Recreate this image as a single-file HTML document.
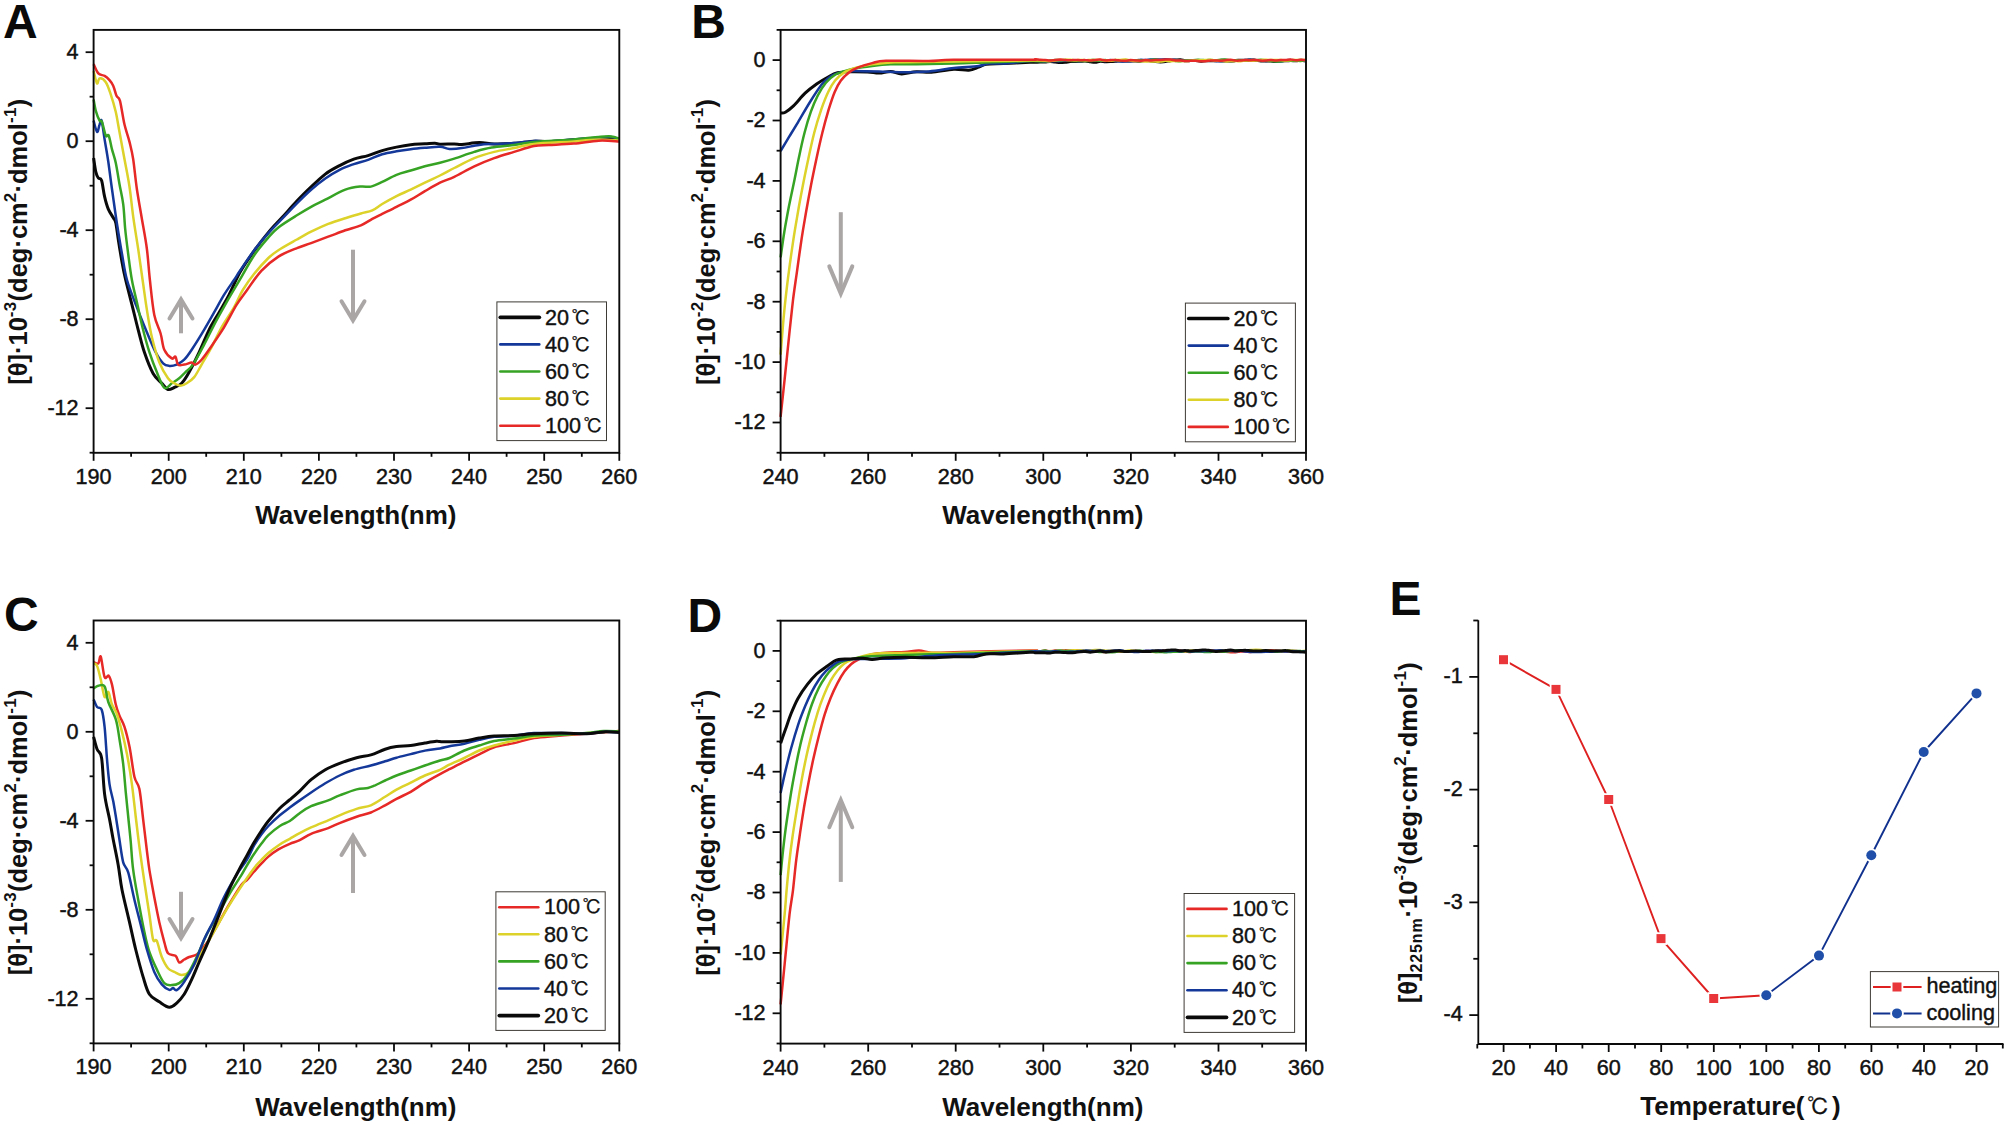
<!DOCTYPE html>
<html lang="en"><head><meta charset="utf-8"><title>CD spectra</title>
<style>html,body{margin:0;padding:0;background:#fff}body{width:2007px;height:1125px;overflow:hidden}svg{display:block}
text{font-family:"Liberation Sans", "Noto Sans CJK SC", sans-serif;fill:#111}
.pl{font-size:48px;font-weight:bold;fill:#0a0a0a}
.tk text{font-size:21.6px;stroke:#111;stroke-width:0.45px}
.lg{font-size:21.6px;stroke:#111;stroke-width:0.4px}
.tt{font-size:26px;font-weight:bold}
.tt.yt{font-size:25.5px}
.sp{font-size:17px;letter-spacing:0.3px}.sb{font-size:16px;letter-spacing:0.9px}
.cj{font-family:"IPAGothic","Noto Sans CJK JP","Liberation Sans",sans-serif;font-size:19.5px;stroke-width:0.25px}
.tt .cj{font-weight:normal;font-size:22.5px;stroke:#111;stroke-width:0.2px}
</style></head><body>
<svg width="2007" height="1125" viewBox="0 0 2007 1125">
<rect width="2007" height="1125" fill="#fff"/>
<text x="3" y="38.1" class="pl">A</text>
<path d="M93.6 158C94 160.3 95 168.5 95.8 171.8C96.6 175.1 97.3 176.6 98.3 178C99.3 179.4 100.5 177.4 101.6 180.5C102.6 183.6 103.5 191.9 104.6 196.7C105.7 201.5 106.8 205.6 108.3 209.1C109.8 212.6 112 215.5 113.3 217.8C114.5 220.1 115 219.3 115.8 222.8C116.6 226.3 117.2 232.5 118.2 239C119.2 245.5 120.8 255.2 122 262C123.2 268.8 124 272.9 125.7 280C127.4 287.1 129.9 296.6 132 304.9C134.1 313.2 136.1 321.9 138.2 329.8C140.3 337.7 141.9 344.9 144.4 352.2C146.9 359.5 150.2 368.2 153.1 373.4C156 378.6 159.3 380.6 161.8 383.3C164.3 386 165.9 388.8 168 389.5C170.1 390.2 172 388.5 174.3 387.5C176.6 386.5 179.2 385.9 181.7 383.3C184.2 380.7 186.3 377.3 189.2 372.1C192.1 366.9 195.9 359.2 199.2 352.2C202.5 345.1 205.8 336.4 209.1 329.8C212.4 323.2 215.8 318.2 219.1 312.4C222.4 306.6 225.5 301.6 229 294.9C232.5 288.2 235.8 279.5 240 272.2C244.2 264.9 249.5 257.5 254.2 250.9C258.9 244.3 263.6 238.1 268.4 232.4C273.1 226.7 277.9 222 282.7 216.8C287.4 211.6 292.2 206.1 296.9 201.1C301.6 196.1 306.4 191.4 311.1 186.9C315.8 182.4 320.6 177.7 325.3 174.1C330.1 170.5 334.9 168.1 339.6 165.6C344.4 163.1 349.1 160.9 353.8 159.2C358.5 157.5 363.3 157 368 155.6C372.7 154.2 377.4 152 382.2 150.6C386.9 149.2 391.8 148.1 396.5 147.1C401.2 146.1 406 145.2 410.7 144.7C415.4 144.1 420.9 144.1 424.9 143.8C428.9 143.6 432.4 143.1 434.9 143.2C437.4 143.3 436.8 144.1 440 144.2C443.2 144.3 450.7 143.9 454.3 143.9C457.9 143.9 457.7 144.6 461.8 144.4C465.9 144.2 473.8 142.7 479.2 142.6C484.6 142.5 488.4 143.8 494.2 143.9C500 144 507.5 143.8 514.1 143.3C520.7 142.9 528.2 141.5 534 141.2C539.8 140.9 542.3 141.8 548.9 141.6C555.5 141.4 565.5 140.4 573.8 139.8C582.1 139.2 592.5 138.4 598.7 138.2C604.9 138 607.8 138.2 611.2 138.5C614.6 138.8 617.9 139.8 619.3 140" fill="none" stroke="#0a0a0a" stroke-width="3.0" stroke-linejoin="round" stroke-linecap="butt"/>
<path d="M93.6 120.7C94.2 122.6 96.1 131.3 97.1 131.9C98.1 132.5 98.8 126.4 99.6 124.5C100.3 122.6 100.8 118.2 101.6 120.7C102.4 123.2 103.5 132.6 104.6 139.4C105.7 146.2 107.1 153.5 108.3 161.8C109.5 170.1 110.5 178.8 112 189.2C113.5 199.6 115.3 213.2 117 224C118.7 234.8 120.3 244.7 122 254C123.7 263.3 124.5 271.1 127 280C129.5 288.9 133.6 298.7 136.9 307.4C140.2 316.1 143.8 324.8 146.9 332.3C150 339.8 152.9 347 155.6 352.2C158.3 357.4 160.8 361.1 163.1 363.4C165.4 365.7 167 365.7 169.3 365.9C171.6 366.1 174.2 365.6 176.7 364.6C179.2 363.6 181.7 362.2 184.2 359.7C186.7 357.2 188.4 354.7 191.7 349.7C195 344.7 200.4 336 204.1 329.8C207.8 323.6 210.8 318.2 214.1 312.4C217.4 306.6 220.7 300.3 224 294.9C227.3 289.5 231.3 284 234 280C236.7 276 236.6 275.8 240 270.8C243.4 265.8 249.5 256.5 254.2 250.2C258.9 243.9 263.6 238.4 268.4 233.1C273.1 227.8 277.9 223.2 282.7 218.2C287.4 213.2 292.2 208.1 296.9 203.3C301.6 198.6 306.4 193.8 311.1 189.7C315.8 185.5 320.6 181.7 325.3 178.4C330.1 175.1 334.9 172.2 339.6 169.8C344.4 167.4 349.1 165.8 353.8 164.1C358.5 162.4 363.3 161.6 368 159.9C372.7 158.2 377.4 155.6 382.2 154.2C386.9 152.8 391.8 152.1 396.5 151.3C401.2 150.5 406 149.8 410.7 149.2C415.4 148.6 420 148.2 424.9 147.8C429.8 147.4 435.9 146.6 440 146.8C444.1 147 445.8 148.7 449.4 148.9C453 149.1 456.8 148.8 461.8 148.1C466.8 147.4 473.8 145.6 479.2 144.9C484.6 144.2 488.4 144.2 494.2 143.9C500 143.6 507.5 143.6 514.1 143.1C520.7 142.6 528.2 141.2 534 140.9C539.8 140.6 542.3 141.7 548.9 141.4C555.5 141.2 565.5 140 573.8 139.4C582.1 138.8 592.5 138.1 598.7 137.7C604.9 137.3 607.8 136.6 611.2 136.9C614.6 137.2 617.9 139 619.3 139.4" fill="none" stroke="#14389a" stroke-width="2.5" stroke-linejoin="round" stroke-linecap="butt"/>
<path d="M93.6 99.6C94 101.5 94.8 107.3 95.8 110.8C96.8 114.3 98.6 118.8 99.6 120.7C100.6 122.6 101 119.5 102 122C103 124.5 104.7 133.4 105.8 135.7C106.9 138 107.8 133.4 108.8 135.7C109.8 138 110.8 144.8 112 149.4C113.2 154 114.5 157.2 115.8 163C117 168.8 118.3 177.3 119.5 184.2C120.7 191 122.2 196.6 123.2 204.1C124.2 211.6 124.4 220.7 125.2 229C126 237.3 127.1 245.5 128.2 254C129.3 262.5 130.4 271.9 131.9 280C133.4 288.1 135 294.1 136.9 302.4C138.8 310.7 141 321.5 143.1 329.8C145.2 338.1 147.1 345.1 149.4 352.2C151.7 359.2 154.3 366.2 156.8 372.1C159.3 378 161.8 385.9 164.3 387.8C166.8 389.7 169.3 384.9 171.8 383.3C174.3 381.7 176.9 380.2 179.2 378.3C181.5 376.4 183.2 374.4 185.5 372.1C187.8 369.8 189.8 369.2 192.9 364.6C196 360 200.6 351.3 204.1 344.7C207.6 338.1 210.4 331.9 214.1 324.8C217.8 317.8 222.2 310 226.5 302.4C230.8 294.8 235.4 287.3 240 279.4C244.6 271.5 249.5 262.2 254.2 255.2C258.9 248.2 264.4 242 268.4 237.4C272.4 232.8 273.6 231.1 278.4 227.4C283.1 223.7 291.4 218.7 296.9 215.3C302.3 211.9 306.4 209.4 311.1 206.8C315.8 204.2 319.6 202.5 325.3 199.7C331 196.8 339.4 191.9 345.3 189.7C351.2 187.5 356.6 187 360.9 186.5C365.2 186 367.3 187.4 370.9 186.6C374.4 185.8 377.9 183.9 382.2 181.9C386.5 179.9 391.8 176.7 396.5 174.8C401.2 172.9 406 171.9 410.7 170.5C415.4 169.1 420 167.6 424.9 166.3C429.8 165 435.1 164 440 162.7C444.9 161.4 448.6 160.4 454.3 158.6C460 156.8 468.1 153.7 474.3 151.9C480.5 150.1 485.1 148.7 491.7 147.6C498.3 146.5 507.1 146 514.1 145.1C521.1 144.2 524 142.8 534 141.9C544 141 563 140.2 573.8 139.4C584.6 138.6 592.5 137.4 598.7 136.9C604.9 136.4 607.8 136.1 611.2 136.4C614.6 136.7 617.9 138.3 619.3 138.7" fill="none" stroke="#37a324" stroke-width="2.5" stroke-linejoin="round" stroke-linecap="butt"/>
<path d="M93.6 71C94.2 73.1 96 82.2 97 83.4C98 84.6 98.1 78.6 99.6 78.4C101.1 78.2 103.9 79.5 105.8 82.2C107.7 84.9 109.1 89.6 110.8 94.6C112.5 99.6 114.3 105.8 115.8 112C117.2 118.2 118 124.1 119.5 132C121 139.9 122.8 150.2 124.5 159.3C126.2 168.4 128.1 177.1 129.5 186.7C130.9 196.2 131.8 206.2 133.2 216.6C134.6 227 136.6 238.4 138.2 249C139.8 259.6 141.1 269.9 142.6 280C144.1 290.1 145.3 300.3 146.9 309.9C148.5 319.4 149.8 328.6 151.9 337.3C154 346 156.6 355.4 159.3 362.2C162 369 165.5 374.8 168 378.3C170.5 381.8 172.2 382.1 174.3 383.3C176.4 384.6 178.4 385.8 180.5 385.8C182.6 385.8 184.4 384.8 186.7 383.3C189 381.9 191.7 380.2 194.2 377.1C196.7 374 198.7 369.6 201.6 364.6C204.5 359.6 208.3 353.4 211.6 347.2C214.9 341 217.9 333.9 221.6 327.3C225.3 320.7 230.5 313.6 234 307.4C237.5 301.2 239.4 295.6 242.8 290C246.2 284.4 249.9 279 254.2 273.7C258.5 268.4 264.4 261.9 268.4 258C272.4 254.1 273.6 253.3 278.4 250.2C283.1 247.1 291.4 242.6 296.9 239.5C302.3 236.4 305.9 234.3 311.1 231.7C316.3 229.1 322.5 226.2 328.2 223.9C333.9 221.7 339.9 219.9 345.3 218.2C350.8 216.5 356.4 214.8 360.9 213.5C365.4 212.2 368.8 212 372.3 210.4C375.9 208.8 378.2 206.4 382.2 204C386.2 201.6 391.8 198.5 396.5 196.1C401.2 193.7 406 191.9 410.7 189.7C415.4 187.4 420 185 424.9 182.6C429.8 180.2 435.1 177.9 440 175.5C444.9 173.1 448.6 170.9 454.3 168C460 165.1 467.7 160.8 474.3 158.1C480.9 155.4 487.6 153.6 494.2 151.9C500.8 150.2 507.5 149.4 514.1 148.1C520.7 146.8 524 145 534 143.9C544 142.8 563 142.2 573.8 141.4C584.6 140.7 591.1 139.5 598.7 139.4C606.3 139.3 615.9 140.5 619.3 140.7" fill="none" stroke="#dcd22a" stroke-width="2.5" stroke-linejoin="round" stroke-linecap="butt"/>
<path d="M93.6 64.2C94.4 65.7 96.5 71.5 98.3 73.4C100.1 75.4 102.7 74.8 104.6 75.9C106.5 77 108 78.5 109.5 80.2C111 81.9 112.1 83.3 113.3 85.9C114.5 88.5 115.4 93.3 116.5 95.8C117.6 98.3 118.7 96 120 100.8C121.3 105.6 122.9 117.7 124.5 124.5C126.1 131.3 128.1 136.1 129.5 141.9C130.9 147.7 132 151.4 133.2 159.3C134.4 167.2 135.4 179.2 136.9 189.2C138.4 199.1 140.2 209 141.9 219C143.6 229 145.6 238.8 146.9 249C148.2 259.2 148.7 269 149.9 280C151.1 291 152.5 306 154.3 314.9C156.1 323.8 158.9 327.7 160.6 333.5C162.3 339.3 162.4 345.6 164.3 349.7C166.2 353.8 169.9 357.2 171.8 358.4C173.7 359.6 174.5 355.7 175.5 356.7C176.5 357.7 176.6 363.3 178 364.6C179.4 365.9 181.9 364.9 184.2 364.6C186.5 364.3 189.8 362.6 191.7 362.6C193.6 362.6 193.8 365.1 195.4 364.6C197.1 364.1 198.9 362.8 201.6 359.7C204.3 356.6 207.9 351.4 211.6 346C215.3 340.6 219.8 334.2 224 327.3C228.2 320.4 232.7 311.1 236.5 304.9C240.3 298.7 243 295.7 247.1 290C251.2 284.3 256.1 276.4 261.3 270.8C266.5 265.2 272.5 260.4 278.4 256.6C284.3 252.8 291.4 250.3 296.9 248.1C302.3 245.8 305.9 245 311.1 243.1C316.3 241.2 322.5 238.8 328.2 236.7C333.9 234.6 339.9 232.2 345.3 230.3C350.8 228.4 356.4 227.2 360.9 225.3C365.4 223.4 368.8 220.8 372.3 218.9C375.9 217 378.2 215.9 382.2 213.9C386.2 211.9 391.8 209.2 396.5 206.8C401.2 204.4 406 202.3 410.7 199.7C415.4 197.1 420 194 424.9 191.2C429.8 188.3 435.1 185 440 182.6C444.9 180.2 448.6 179.5 454.3 176.8C460 174.1 467.7 169.4 474.3 166.3C480.9 163.2 487.6 160.5 494.2 158.1C500.8 155.7 507.5 153.9 514.1 151.9C520.7 149.9 528.2 147.2 534 146.1C539.8 145 542.3 145.5 548.9 145.1C555.5 144.7 565.5 144.3 573.8 143.6C582.1 142.9 591.1 141.1 598.7 140.7C606.3 140.3 615.9 141.3 619.3 141.4" fill="none" stroke="#e62826" stroke-width="2.5" stroke-linejoin="round" stroke-linecap="butt"/>
<rect x="93.6" y="29.9" width="525.6999999999999" height="422.90000000000003" fill="none" stroke="#0a0a0a" stroke-width="1.9"/>
<g stroke="#0a0a0a" stroke-width="1.8">
<line x1="93.6" y1="452.8" x2="93.6" y2="460.8"/>
<line x1="168.7" y1="452.8" x2="168.7" y2="460.8"/>
<line x1="243.8" y1="452.8" x2="243.8" y2="460.8"/>
<line x1="318.9" y1="452.8" x2="318.9" y2="460.8"/>
<line x1="394" y1="452.8" x2="394" y2="460.8"/>
<line x1="469.1" y1="452.8" x2="469.1" y2="460.8"/>
<line x1="544.2" y1="452.8" x2="544.2" y2="460.8"/>
<line x1="619.3" y1="452.8" x2="619.3" y2="460.8"/>
<line x1="131.1" y1="452.8" x2="131.1" y2="456.8"/>
<line x1="206.2" y1="452.8" x2="206.2" y2="456.8"/>
<line x1="281.4" y1="452.8" x2="281.4" y2="456.8"/>
<line x1="356.4" y1="452.8" x2="356.4" y2="456.8"/>
<line x1="431.5" y1="452.8" x2="431.5" y2="456.8"/>
<line x1="506.6" y1="452.8" x2="506.6" y2="456.8"/>
<line x1="581.8" y1="452.8" x2="581.8" y2="456.8"/>
<line x1="85.6" y1="52.2" x2="93.6" y2="52.2"/>
<line x1="85.6" y1="141.2" x2="93.6" y2="141.2"/>
<line x1="85.6" y1="230.2" x2="93.6" y2="230.2"/>
<line x1="85.6" y1="319.2" x2="93.6" y2="319.2"/>
<line x1="85.6" y1="408.2" x2="93.6" y2="408.2"/>
<line x1="89.6" y1="96.7" x2="93.6" y2="96.7"/>
<line x1="89.6" y1="185.7" x2="93.6" y2="185.7"/>
<line x1="89.6" y1="274.7" x2="93.6" y2="274.7"/>
<line x1="89.6" y1="363.7" x2="93.6" y2="363.7"/>
<line x1="89.6" y1="452.7" x2="93.6" y2="452.7"/>
</g>
<g class="tk">
<text x="93.6" y="483.8" text-anchor="middle">190</text>
<text x="168.7" y="483.8" text-anchor="middle">200</text>
<text x="243.8" y="483.8" text-anchor="middle">210</text>
<text x="318.9" y="483.8" text-anchor="middle">220</text>
<text x="394" y="483.8" text-anchor="middle">230</text>
<text x="469.1" y="483.8" text-anchor="middle">240</text>
<text x="544.2" y="483.8" text-anchor="middle">250</text>
<text x="619.3" y="483.8" text-anchor="middle">260</text>
<text x="78.6" y="59.1" text-anchor="end">4</text>
<text x="78.6" y="148.1" text-anchor="end">0</text>
<text x="78.6" y="237.1" text-anchor="end">-4</text>
<text x="78.6" y="326.1" text-anchor="end">-8</text>
<text x="78.6" y="415.1" text-anchor="end">-12</text>
</g>
<text x="355.9" y="524" text-anchor="middle" class="tt">Wavelength(nm)</text>
<text transform="translate(27.4 241.8) rotate(-90)" text-anchor="middle" class="tt yt">[θ]·10<tspan class="sp" dy="-11.5">-3</tspan><tspan dy="11.5">(deg·cm</tspan><tspan class="sp" dy="-11.5">2</tspan><tspan dy="11.5">·dmol</tspan><tspan class="sp" dy="-11.5">-1</tspan><tspan dy="11.5">)</tspan></text>
<rect x="496.9" y="301.9" width="109.6" height="138.7" fill="#fff" stroke="#3e3a35" stroke-width="1"/>
<line x1="500.3" y1="317.3" x2="539.3" y2="317.3" stroke="#0a0a0a" stroke-width="3.7" stroke-linecap="round"/>
<text x="544.9" y="324.5" class="lg">20<tspan class="cj" dx="2.5">℃</tspan></text>
<line x1="500.3" y1="344.4" x2="539.3" y2="344.4" stroke="#14389a" stroke-width="2.6" stroke-linecap="round"/>
<text x="544.9" y="351.6" class="lg">40<tspan class="cj" dx="2.5">℃</tspan></text>
<line x1="500.3" y1="371.5" x2="539.3" y2="371.5" stroke="#37a324" stroke-width="2.6" stroke-linecap="round"/>
<text x="544.9" y="378.7" class="lg">60<tspan class="cj" dx="2.5">℃</tspan></text>
<line x1="500.3" y1="398.6" x2="539.3" y2="398.6" stroke="#dcd22a" stroke-width="2.6" stroke-linecap="round"/>
<text x="544.9" y="405.8" class="lg">80<tspan class="cj" dx="2.5">℃</tspan></text>
<line x1="500.3" y1="425.7" x2="539.3" y2="425.7" stroke="#e62826" stroke-width="2.6" stroke-linecap="round"/>
<text x="544.9" y="432.9" class="lg">100<tspan class="cj" dx="2.5">℃</tspan></text>
<g fill="none" stroke="#aaa6a6" stroke-width="4">
<line x1="181" y1="333.3" x2="181" y2="300.4"/>
<polyline points="169.5,318.5 181,299.4 192.5,318.5" stroke-linejoin="miter" stroke-miterlimit="10" stroke-linecap="round"/>
</g>
<g fill="none" stroke="#aaa6a6" stroke-width="4">
<line x1="353" y1="249.7" x2="353" y2="319.4"/>
<polyline points="341.5,301.3 353,320.4 364.5,301.3" stroke-linejoin="miter" stroke-miterlimit="10" stroke-linecap="round"/>
</g>
<text x="4" y="631.4" class="pl">C</text>
<path d="M93.6 662.2C94.4 662.4 97.1 664.3 98.3 663.4C99.5 662.5 99.8 654.4 100.8 656.7C101.8 659 103.3 673.9 104.6 677.1C105.9 680.3 107.6 674.5 108.8 675.8C110 677 110.8 679.8 112 684.6C113.2 689.4 114.5 699.3 115.8 704.5C117 709.7 118 712 119.5 715.7C121 719.4 122.8 721.7 124.5 726.9C126.2 732.1 127.8 738.5 129.5 746.8C131.2 755.1 132.8 769.7 134.4 776.7C136.1 783.8 138 782.1 139.4 789.1C140.8 796.1 141.9 808.9 143.1 819C144.3 829.1 145.8 841.5 146.8 850C147.9 858.5 148.2 862 149.4 869.9C150.7 877.8 152.7 888.6 154.3 897.3C156 906 157.6 914.7 159.3 922.2C161 929.7 162.9 936.9 164.3 942.1C165.8 947.3 166.1 951 168 953.3C169.9 955.6 173.6 954.3 175.5 955.8C177.4 957.3 177.8 961.9 179.2 962.5C180.6 963.1 182.5 960.4 184.2 959.5C185.9 958.6 187.1 957.8 189.2 957C191.3 956.2 194.6 955.8 196.7 954.5C198.8 953.2 199.5 952 201.6 949.5C203.7 947 206.2 944.1 209.1 939.6C212 935.1 215.8 928 219.1 922.2C222.4 916.4 225.3 910.9 229 904.7C232.7 898.5 238.5 888.9 241.5 884.8C244.5 880.7 245 882.2 247.1 880C249.2 877.8 251.8 874.2 254.2 871.5C256.6 868.8 258.9 866.2 261.3 863.7C263.7 861.2 265.5 859 268.4 856.6C271.2 854.2 274.8 851.5 278.4 849.4C282 847.3 286.2 845.3 289.8 843.8C293.4 842.3 296.1 841.9 299.7 840.2C303.2 838.5 306.4 835.8 311.1 833.8C315.9 831.8 323.4 829.9 328.2 828.1C332.9 826.3 334.9 825 339.6 823.1C344.3 821.2 351.4 818.5 356.6 816.7C361.8 814.9 366.1 814.4 370.9 812.5C375.6 810.6 380.8 807.6 385.1 805.3C389.4 803 392.2 801.1 396.5 798.9C400.8 796.6 406 794.5 410.7 791.8C415.4 789.1 420 785.5 424.9 782.6C429.8 779.7 435.9 776.3 440 774.1C444.1 771.9 445.3 771.3 449.4 769.2C453.4 767.1 459.3 764.2 464.3 761.7C469.3 759.2 474.2 756.7 479.2 754.3C484.2 751.9 488.4 749.2 494.2 747.3C500 745.4 507.5 744.6 514.1 743.1C520.7 741.6 526.1 739.4 534 738.1C541.9 736.9 547.2 736.8 561.4 735.6C575.6 734.4 609.6 731.9 619.3 731.1" fill="none" stroke="#e62826" stroke-width="2.5" stroke-linejoin="round" stroke-linecap="butt"/>
<path d="M93.6 663.4C94.2 663.8 95.9 663.2 97.1 665.9C98.3 668.6 99.5 674.4 100.8 679.6C102 684.8 103.3 694.9 104.6 697C105.8 699.1 107.1 690.8 108.3 692C109.5 693.2 110.5 700.8 112 704.5C113.5 708.2 115.3 709.8 117 714.4C118.7 719 120.3 725.2 122 731.9C123.7 738.5 125.3 745.6 127 754.3C128.7 763 130.5 773.7 131.9 784.1C133.3 794.5 134.6 807 135.7 816.5C136.8 826 137.7 833.3 138.7 841.4C139.7 849.5 140.8 856.8 141.9 864.9C143.1 873 144.3 881.5 145.6 889.8C146.8 898.1 148.2 906.4 149.4 914.7C150.7 923 151.9 935.2 153.1 939.6C154.3 944 155.4 937.9 156.8 940.8C158.2 943.7 159.9 952.4 161.8 957C163.7 961.6 165.9 965.7 168 968.2C170.1 970.7 172 970.8 174.3 971.9C176.6 973 179.2 974.9 181.7 974.9C184.2 974.9 186.7 974.3 189.2 971.9C191.7 969.5 193.8 965.2 196.7 960.7C199.6 956.2 203.3 950.2 206.6 944.6C209.9 939 213.3 932.9 216.6 927.1C219.9 921.3 222.8 915.9 226.5 909.7C230.2 903.5 234.4 896.8 239 889.8C243.6 882.8 250.5 872.8 254.2 867.9C257.9 863 258.9 862.6 261.3 860.1C263.7 857.6 265.3 855.6 268.4 853C271.5 850.4 276.2 846.9 279.8 844.5C283.4 842.1 286.5 840.7 289.8 838.8C293.1 836.9 296.1 835 299.7 833.1C303.2 831.2 306.4 829.5 311.1 827.4C315.9 825.3 323.4 822.3 328.2 820.3C332.9 818.3 334.9 817.2 339.6 815.3C344.3 813.4 351.4 810.6 356.6 808.9C361.8 807.2 366.1 807.3 370.9 805.3C375.6 803.3 380.8 799.4 385.1 796.8C389.4 794.2 392.2 792.1 396.5 789.7C400.8 787.3 406 785 410.7 782.6C415.4 780.2 420 777.6 424.9 775.5C429.8 773.4 435.9 771.6 440 769.8C444.1 768 445.3 766.7 449.4 764.7C453.4 762.7 459.3 760.4 464.3 758C469.3 755.6 474.2 752.6 479.2 750.5C484.2 748.4 488.4 747.1 494.2 745.5C500 743.9 507.5 742.1 514.1 740.6C520.7 739.1 526.1 737.8 534 736.8C541.9 735.8 547.2 735.8 561.4 734.8C575.6 733.8 609.6 731.5 619.3 730.9" fill="none" stroke="#dcd22a" stroke-width="2.5" stroke-linejoin="round" stroke-linecap="butt"/>
<path d="M93.6 688.3C94.4 687.9 96.5 686.1 98.3 685.8C100.1 685.5 102.9 683.6 104.6 686.3C106.3 689 106.4 696.5 108.3 702C110.2 707.5 113.9 713.2 115.8 719.4C117.7 725.6 118.3 731.8 119.5 739.3C120.7 746.8 122.2 755.5 123.2 764.2C124.2 772.9 124.9 782.9 125.7 791.6C126.5 800.3 127.4 808.2 128.2 816.5C129 824.8 129.9 832.5 130.7 841.4C131.5 850.3 131.9 860.2 133.2 869.9C134.4 879.6 136.3 889.3 138.2 899.7C140.1 910.1 142.5 923.4 144.4 932.1C146.3 940.8 147.3 945.8 149.4 952C151.5 958.2 154.3 964.2 156.8 969.4C159.3 974.6 161.8 980.5 164.3 983.1C166.8 985.7 169.3 985.1 171.8 985.1C174.3 985.1 176.7 984.7 179.2 983.1C181.7 981.5 183.8 980.1 186.7 975.7C189.6 971.4 193.4 963.9 196.7 957C200 950.1 203.3 941.2 206.6 934.6C209.9 928 212.9 923.8 216.6 917.2C220.3 910.6 224.8 901.8 229 894.8C233.2 887.8 238.5 879.8 241.5 874.9C244.5 870 245 868.6 247.1 865.1C249.2 861.6 251.8 857.2 254.2 853.7C256.6 850.2 258.9 846.9 261.3 843.8C263.7 840.7 265.3 838.2 268.4 835.2C271.5 832.2 276.2 828.4 279.8 826C283.4 823.6 286.5 823.1 289.8 821C293.1 818.9 296.1 815.7 299.7 813.2C303.2 810.7 306.4 808.2 311.1 806.1C315.9 804 323.4 802.2 328.2 800.4C332.9 798.6 334.9 797.2 339.6 795.4C344.3 793.6 351.9 790.6 356.6 789.4C361.3 788.2 364.9 788.7 368 788C371.1 787.3 372.2 786.6 375.1 785.4C378 784.1 381.5 782.1 385.1 780.5C388.7 778.9 392.2 777.2 396.5 775.5C400.8 773.8 406 772.2 410.7 770.5C415.4 768.8 420 767.2 424.9 765.5C429.8 763.8 435.9 761.8 440 760.5C444.1 759.2 445.3 759.7 449.4 758C453.4 756.3 459.3 752.6 464.3 750.5C469.3 748.4 474.2 747.1 479.2 745.5C484.2 743.9 488.4 742.2 494.2 741.1C500 740 507.5 739.5 514.1 738.6C520.7 737.7 526.1 736.2 534 735.6C541.9 735 552.7 735.2 561.4 734.8C570.1 734.4 579.2 733.7 586.3 733.1C593.3 732.5 598.2 731.4 603.7 731.1C609.2 730.8 616.7 731.4 619.3 731.4" fill="none" stroke="#37a324" stroke-width="2.5" stroke-linejoin="round" stroke-linecap="butt"/>
<path d="M93.6 699.5C94.2 700.8 95.8 705.3 97.1 707C98.4 708.7 100.3 706.2 101.6 709.5C102.8 712.8 103.7 718.6 104.6 726.9C105.5 735.2 106.2 749.7 107 759.2C107.8 768.7 108.5 777 109.5 784.1C110.5 791.2 112 795 113.3 801.6C114.5 808.2 116 817.6 117 824C118 830.4 118.5 833.6 119.5 840C120.5 846.4 121.8 857 123.2 862.4C124.7 867.8 126.3 866.2 128.2 872.4C130.1 878.6 132.3 891 134.4 899.7C136.5 908.4 138.6 916.3 140.7 924.6C142.8 932.9 144.6 941.6 146.9 949.5C149.2 957.4 151.8 966.1 154.3 971.9C156.8 977.7 159.3 981.4 161.8 984.4C164.3 987.4 167.4 989.3 169.3 989.9C171.2 990.5 171.8 988.1 173 988.1C174.2 988.1 174.8 991.1 176.7 990.1C178.6 989.1 181.3 986.2 184.2 981.9C187.1 977.6 190.9 971.5 194.2 964.5C197.5 957.5 200.8 947.1 204.1 939.6C207.4 932.1 210.8 926.8 214.1 919.7C217.4 912.7 220.3 904.8 224 897.3C227.7 889.8 232.7 881.2 236.5 874.9C240.3 868.6 244.2 864.3 247.1 859.4C250 854.5 251.8 849.4 254.2 845.2C256.6 841.1 258.9 837.7 261.3 834.5C263.7 831.3 265.3 829.2 268.4 826C271.5 822.8 276.2 818.4 279.8 815.3C283.4 812.2 286.5 810 289.8 807.5C293.1 805 296.1 802.9 299.7 800.4C303.2 797.9 306.8 795.4 311.1 792.5C315.4 789.6 320.6 786.1 325.3 783.3C330.1 780.5 334.9 777.8 339.6 775.5C344.4 773.2 348.6 771.5 353.8 769.8C359 768.1 365.7 766.9 370.9 765.5C376.1 764.1 380.8 762.6 385.1 761.3C389.4 760 392.2 758.9 396.5 757.7C400.8 756.5 406 755.3 410.7 754.1C415.4 752.9 420 751.6 424.9 750.6C429.8 749.6 435.9 749.1 440 748.4C444.1 747.7 445.3 747.1 449.4 746.3C453.4 745.5 459.3 744.9 464.3 743.8C469.3 742.7 474.2 741 479.2 739.8C484.2 738.6 488.4 737.5 494.2 736.8C500 736.1 507.5 736.2 514.1 735.6C520.7 735 526.1 733.5 534 733.1C541.9 732.7 552.7 733 561.4 733.1C570.1 733.2 579.2 734 586.3 733.8C593.3 733.6 598.2 732.1 603.7 731.9C609.2 731.7 616.7 732.3 619.3 732.4" fill="none" stroke="#14389a" stroke-width="2.5" stroke-linejoin="round" stroke-linecap="butt"/>
<path d="M93.6 736.8C94.2 738.9 95.8 745.8 97.1 749.3C98.4 752.8 100.3 750.5 101.6 758C102.8 765.5 103.3 783.9 104.6 794.1C105.9 804.3 108 811.4 109.5 819C111 826.6 111.8 832.4 113.3 840C114.8 847.6 116.8 856.6 118.2 864.9C119.7 873.2 120.1 880.2 122 889.8C123.9 899.3 127.2 912.2 129.5 922.2C131.8 932.2 133.4 940.4 135.7 949.5C138 958.6 140.8 969.4 143.1 976.9C145.4 984.4 146.7 990.1 149.4 994.3C152.1 998.4 156 999.6 159.3 1001.8C162.6 1004 166.4 1007.1 169.3 1007.3C172.2 1007.5 174.2 1005.3 176.7 1003.1C179.2 1000.9 181.7 998.2 184.2 994.3C186.7 990.3 189.2 984.8 191.7 979.4C194.2 974 196.3 968.6 199.2 962C202.1 955.4 205.8 947.5 209.1 939.6C212.4 931.7 215.8 923 219.1 914.7C222.4 906.4 225.7 897.3 229 889.8C232.3 882.3 236 875.7 239 869.9C242 864.1 244.6 859.7 247.1 855.1C249.6 850.5 251.8 846.3 254.2 842.3C256.6 838.3 258.9 834.5 261.3 831C263.7 827.5 265.3 824.8 268.4 821C271.5 817.2 276.2 811.8 279.8 808.2C283.4 804.7 286.5 802.6 289.8 799.7C293.1 796.9 296.1 794.4 299.7 791.1C303.2 787.8 306.8 783.2 311.1 779.7C315.4 776.2 320.6 772.5 325.3 769.8C330.1 767.1 334.4 765.4 339.6 763.4C344.8 761.4 351.4 759.1 356.6 757.7C361.8 756.3 366.1 756.3 370.9 754.9C375.6 753.5 380.8 750.6 385.1 749.2C389.4 747.8 392.2 747.2 396.5 746.6C400.8 746 406 746.2 410.7 745.6C415.4 745 420.6 743.7 424.9 743C429.2 742.3 433.8 741.5 436.3 741.3C438.8 741.1 437.8 741.5 440 741.6C442.2 741.7 445.3 741.9 449.4 741.8C453.4 741.7 459.3 741.7 464.3 741.1C469.3 740.5 474.2 738.9 479.2 738.1C484.2 737.3 488.4 736.5 494.2 736.1C500 735.7 507.5 736 514.1 735.6C520.7 735.2 526.1 734.2 534 733.8C541.9 733.4 552.7 733.1 561.4 733.1C570.1 733.1 579.2 734 586.3 733.8C593.3 733.6 598.2 732.1 603.7 731.9C609.2 731.7 616.7 732.3 619.3 732.4" fill="none" stroke="#0a0a0a" stroke-width="3.0" stroke-linejoin="round" stroke-linecap="butt"/>
<rect x="93.6" y="620.5" width="525.6999999999999" height="422.9000000000001" fill="none" stroke="#0a0a0a" stroke-width="1.9"/>
<g stroke="#0a0a0a" stroke-width="1.8">
<line x1="93.6" y1="1043.4" x2="93.6" y2="1051.4"/>
<line x1="168.7" y1="1043.4" x2="168.7" y2="1051.4"/>
<line x1="243.8" y1="1043.4" x2="243.8" y2="1051.4"/>
<line x1="318.9" y1="1043.4" x2="318.9" y2="1051.4"/>
<line x1="394" y1="1043.4" x2="394" y2="1051.4"/>
<line x1="469.1" y1="1043.4" x2="469.1" y2="1051.4"/>
<line x1="544.2" y1="1043.4" x2="544.2" y2="1051.4"/>
<line x1="619.3" y1="1043.4" x2="619.3" y2="1051.4"/>
<line x1="131.1" y1="1043.4" x2="131.1" y2="1047.4"/>
<line x1="206.2" y1="1043.4" x2="206.2" y2="1047.4"/>
<line x1="281.4" y1="1043.4" x2="281.4" y2="1047.4"/>
<line x1="356.4" y1="1043.4" x2="356.4" y2="1047.4"/>
<line x1="431.5" y1="1043.4" x2="431.5" y2="1047.4"/>
<line x1="506.6" y1="1043.4" x2="506.6" y2="1047.4"/>
<line x1="581.8" y1="1043.4" x2="581.8" y2="1047.4"/>
<line x1="85.6" y1="642.8" x2="93.6" y2="642.8"/>
<line x1="85.6" y1="731.8" x2="93.6" y2="731.8"/>
<line x1="85.6" y1="820.8" x2="93.6" y2="820.8"/>
<line x1="85.6" y1="909.8" x2="93.6" y2="909.8"/>
<line x1="85.6" y1="998.8" x2="93.6" y2="998.8"/>
<line x1="89.6" y1="687.3" x2="93.6" y2="687.3"/>
<line x1="89.6" y1="776.3" x2="93.6" y2="776.3"/>
<line x1="89.6" y1="865.3" x2="93.6" y2="865.3"/>
<line x1="89.6" y1="954.3" x2="93.6" y2="954.3"/>
<line x1="89.6" y1="1043.3" x2="93.6" y2="1043.3"/>
</g>
<g class="tk">
<text x="93.6" y="1074.4" text-anchor="middle">190</text>
<text x="168.7" y="1074.4" text-anchor="middle">200</text>
<text x="243.8" y="1074.4" text-anchor="middle">210</text>
<text x="318.9" y="1074.4" text-anchor="middle">220</text>
<text x="394" y="1074.4" text-anchor="middle">230</text>
<text x="469.1" y="1074.4" text-anchor="middle">240</text>
<text x="544.2" y="1074.4" text-anchor="middle">250</text>
<text x="619.3" y="1074.4" text-anchor="middle">260</text>
<text x="78.6" y="649.7" text-anchor="end">4</text>
<text x="78.6" y="738.7" text-anchor="end">0</text>
<text x="78.6" y="827.7" text-anchor="end">-4</text>
<text x="78.6" y="916.7" text-anchor="end">-8</text>
<text x="78.6" y="1005.7" text-anchor="end">-12</text>
</g>
<text x="355.9" y="1115.6" text-anchor="middle" class="tt">Wavelength(nm)</text>
<text transform="translate(27.4 832.4000000000001) rotate(-90)" text-anchor="middle" class="tt yt">[θ]·10<tspan class="sp" dy="-11.5">-3</tspan><tspan dy="11.5">(deg·cm</tspan><tspan class="sp" dy="-11.5">2</tspan><tspan dy="11.5">·dmol</tspan><tspan class="sp" dy="-11.5">-1</tspan><tspan dy="11.5">)</tspan></text>
<rect x="495.9" y="891.8" width="109.3" height="138.6" fill="#fff" stroke="#3e3a35" stroke-width="1"/>
<line x1="499.3" y1="907.2" x2="538.3" y2="907.2" stroke="#e62826" stroke-width="2.6" stroke-linecap="round"/>
<text x="543.9" y="914.4" class="lg">100<tspan class="cj" dx="2.5">℃</tspan></text>
<line x1="499.3" y1="934.3" x2="538.3" y2="934.3" stroke="#dcd22a" stroke-width="2.6" stroke-linecap="round"/>
<text x="543.9" y="941.5" class="lg">80<tspan class="cj" dx="2.5">℃</tspan></text>
<line x1="499.3" y1="961.4" x2="538.3" y2="961.4" stroke="#37a324" stroke-width="2.6" stroke-linecap="round"/>
<text x="543.9" y="968.6" class="lg">60<tspan class="cj" dx="2.5">℃</tspan></text>
<line x1="499.3" y1="988.5" x2="538.3" y2="988.5" stroke="#14389a" stroke-width="2.6" stroke-linecap="round"/>
<text x="543.9" y="995.7" class="lg">40<tspan class="cj" dx="2.5">℃</tspan></text>
<line x1="499.3" y1="1015.6" x2="538.3" y2="1015.6" stroke="#0a0a0a" stroke-width="3.7" stroke-linecap="round"/>
<text x="543.9" y="1022.8" class="lg">20<tspan class="cj" dx="2.5">℃</tspan></text>
<g fill="none" stroke="#aaa6a6" stroke-width="4">
<line x1="181" y1="891.8" x2="181" y2="937.1"/>
<polyline points="169.5,919 181,938.1 192.5,919" stroke-linejoin="miter" stroke-miterlimit="10" stroke-linecap="round"/>
</g>
<g fill="none" stroke="#aaa6a6" stroke-width="4">
<line x1="353" y1="893" x2="353" y2="836.9"/>
<polyline points="341.5,855 353,835.9 364.5,855" stroke-linejoin="miter" stroke-miterlimit="10" stroke-linecap="round"/>
</g>
<text x="691.2" y="38.1" class="pl">B</text>
<path d="M780.6 112.9C781.4 112.8 783.2 113.4 785.4 112.2C787.5 111 790.2 109.1 793.5 105.9C796.8 102.7 801.2 96.9 805.1 93.2C809 89.5 812.8 86.7 816.6 84C820.5 81.3 824.7 78.9 828.2 77C831.7 75.1 834 73.7 837.5 72.8C841 71.9 844 71.8 849 71.7C854 71.6 862.5 71.7 867.5 71.9C872.5 72.1 875.2 73.2 879.1 73.1C883 73 887 71.3 890.7 71.4C894.5 71.5 897.3 73.9 901.6 73.9C905.9 74 911.5 72 916.5 71.7C921.5 71.4 925.2 72.6 931.4 72.2C937.6 71.8 947.6 69.5 953.8 69.2C960 68.9 964.6 70.5 968.8 70.2C972.9 69.9 975.8 68.2 978.7 67.2C981.6 66.2 982.1 64.8 986.2 64.2C990.4 63.6 996.3 63.8 1003.6 63.5C1010.9 63.2 1024.8 62.4 1030 62.2C1035.2 62 1033.3 62.3 1035 62.2C1036.7 62.2 1038.4 62.1 1040 62C1041.7 62 1043.4 62.2 1045.1 62.1C1046.7 62 1048.4 61.6 1050.1 61.6C1051.7 61.6 1053.4 62 1055.1 62.1C1056.8 62.2 1058.4 62.4 1060.1 62.4C1061.8 62.4 1063.5 62.5 1065.1 62.3C1066.8 62.2 1068.5 61.7 1070.1 61.6C1071.8 61.4 1073.5 61.6 1075.2 61.6C1076.8 61.5 1078.5 61.4 1080.2 61.3C1081.9 61.2 1083.5 60.9 1085.2 61C1086.9 61.1 1088.5 61.5 1090.2 61.8C1091.9 62 1093.6 62.4 1095.2 62.3C1096.9 62.2 1098.6 61.3 1100.3 61.2C1101.9 61.1 1103.6 61.6 1105.3 61.7C1106.9 61.8 1108.6 61.7 1110.3 61.6C1112 61.5 1113.6 61.3 1115.3 61.2C1117 61.1 1118.7 60.8 1120.3 60.8C1122 60.8 1123.7 61.1 1125.3 61.1C1127 61.1 1128.7 60.9 1130.4 60.9C1132 60.9 1133.7 61.1 1135.4 61.1C1137.1 61.2 1138.7 61.3 1140.4 61.2C1142.1 61.1 1143.7 60.5 1145.4 60.5C1147.1 60.5 1148.8 60.8 1150.4 61C1152.1 61.2 1153.8 61.4 1155.5 61.6C1157.1 61.8 1158.8 61.9 1160.5 61.9C1162.1 61.9 1163.8 61.9 1165.5 61.6C1167.2 61.4 1168.8 60.9 1170.5 60.7C1172.2 60.4 1173.9 60.2 1175.5 60C1177.2 59.9 1178.9 59.7 1180.5 59.8C1182.2 60 1183.9 60.7 1185.6 60.8C1187.2 61 1188.9 60.6 1190.6 60.5C1192.3 60.5 1193.9 60.4 1195.6 60.5C1197.3 60.6 1198.9 61.1 1200.6 61.2C1202.3 61.2 1204 60.8 1205.6 60.8C1207.3 60.7 1209 60.8 1210.7 60.8C1212.3 60.8 1214 60.8 1215.7 60.7C1217.3 60.6 1219 60.2 1220.7 60.2C1222.4 60.1 1224 60.4 1225.7 60.5C1227.4 60.7 1229.1 61.1 1230.7 61.1C1232.4 61.1 1234.1 60.7 1235.7 60.5C1237.4 60.4 1239.1 60.3 1240.8 60.2C1242.4 60.2 1244.1 60.4 1245.8 60.3C1247.5 60.3 1249.1 59.9 1250.8 59.9C1252.5 59.9 1254.1 60.1 1255.8 60.2C1257.5 60.4 1259.2 60.8 1260.8 60.9C1262.5 61.1 1264.2 61.1 1265.9 61.1C1267.5 61.1 1269.2 61 1270.9 61C1272.5 61.1 1274.2 61.5 1275.9 61.4C1277.6 61.4 1279.2 60.8 1280.9 60.7C1282.6 60.6 1284.3 60.8 1285.9 60.8C1287.6 60.8 1289.3 60.6 1290.9 60.6C1292.6 60.6 1294.3 60.9 1296 60.8C1297.6 60.8 1299.3 60.3 1301 60.3C1302.7 60.3 1305.2 60.8 1306 60.9" fill="none" stroke="#0a0a0a" stroke-width="3.0" stroke-linejoin="round" stroke-linecap="butt"/>
<path d="M780.6 151C782 148.7 786 142 788.9 137.2C791.8 132.4 794.6 127.9 798.1 122.1C801.6 116.3 805.8 108.7 809.7 102.5C813.6 96.3 818.2 89.1 821.3 85.1C824.4 81 825.9 80 828.2 78.2C830.5 76.4 832.4 75.3 835.1 74.2C837.8 73.1 841.2 72.2 844.4 71.7C847.6 71.2 848.5 71 854.3 70.9C860.1 70.9 871.7 71.2 879.2 71.4C886.7 71.6 890.8 72.2 899.1 72.2C907.4 72.2 919.8 72.1 928.9 71.4C938 70.7 945.5 68.9 953.8 68C962.1 67.1 972.9 66.8 978.7 66C984.5 65.2 984.6 63.9 988.7 63.5C992.9 63.1 996.7 63.9 1003.6 63.5C1010.5 63.1 1024.8 61.4 1030 61C1035.2 60.6 1033.3 60.9 1035 60.9C1036.7 60.9 1038.4 60.9 1040 61C1041.7 61.1 1043.4 61.5 1045.1 61.6C1046.7 61.6 1048.4 61.3 1050.1 61.2C1051.7 61.2 1053.4 61.1 1055.1 61.1C1056.8 61.1 1058.4 61.2 1060.1 61.1C1061.8 61 1063.5 60.6 1065.1 60.5C1066.8 60.5 1068.5 60.6 1070.1 60.7C1071.8 60.7 1073.5 60.8 1075.2 60.9C1076.8 61 1078.5 61.3 1080.2 61.2C1081.9 61.2 1083.5 60.6 1085.2 60.5C1086.9 60.3 1088.5 60.4 1090.2 60.3C1091.9 60.2 1093.6 59.8 1095.2 59.9C1096.9 59.9 1098.6 60.4 1100.3 60.6C1101.9 60.8 1103.6 61 1105.3 60.9C1106.9 60.8 1108.6 60.1 1110.3 60.1C1112 60.1 1113.6 60.8 1115.3 61C1117 61.2 1118.7 61.4 1120.3 61.5C1122 61.5 1123.7 61.4 1125.3 61.3C1127 61.3 1128.7 61.3 1130.4 61.2C1132 61 1133.7 60.6 1135.4 60.4C1137.1 60.2 1138.7 59.8 1140.4 59.8C1142.1 59.7 1143.7 60.1 1145.4 60.1C1147.1 60.1 1148.8 59.7 1150.4 59.6C1152.1 59.5 1153.8 59.6 1155.5 59.5C1157.1 59.5 1158.8 59.6 1160.5 59.6C1162.1 59.5 1163.8 59.3 1165.5 59.3C1167.2 59.3 1168.8 59.6 1170.5 59.7C1172.2 59.8 1173.9 59.8 1175.5 59.9C1177.2 60.1 1178.9 60.5 1180.5 60.6C1182.2 60.8 1183.9 60.6 1185.6 60.6C1187.2 60.6 1188.9 60.8 1190.6 60.8C1192.3 60.8 1193.9 60.6 1195.6 60.7C1197.3 60.7 1198.9 60.8 1200.6 60.8C1202.3 60.8 1204 60.7 1205.6 60.6C1207.3 60.5 1209 60.2 1210.7 60.3C1212.3 60.3 1214 60.8 1215.7 61.1C1217.3 61.3 1219 61.4 1220.7 61.5C1222.4 61.6 1224 61.6 1225.7 61.6C1227.4 61.6 1229.1 61.6 1230.7 61.4C1232.4 61.3 1234.1 61 1235.7 60.8C1237.4 60.6 1239.1 60.4 1240.8 60.3C1242.4 60.2 1244.1 60.2 1245.8 60.1C1247.5 60 1249.1 59.6 1250.8 59.7C1252.5 59.7 1254.1 60.3 1255.8 60.4C1257.5 60.5 1259.2 60.2 1260.8 60.3C1262.5 60.4 1264.2 60.8 1265.9 60.9C1267.5 60.9 1269.2 60.5 1270.9 60.6C1272.5 60.6 1274.2 61 1275.9 61.2C1277.6 61.3 1279.2 61.5 1280.9 61.4C1282.6 61.3 1284.3 60.6 1285.9 60.3C1287.6 60.1 1289.3 59.9 1290.9 60C1292.6 60.1 1294.3 60.7 1296 60.8C1297.6 60.9 1299.3 60.5 1301 60.6C1302.7 60.7 1305.2 61.1 1306 61.2" fill="none" stroke="#14389a" stroke-width="2.5" stroke-linejoin="round" stroke-linecap="butt"/>
<path d="M780.6 257.4C781.2 253.2 782.9 240.5 784.3 232C785.7 223.5 787.2 215.5 788.9 206.6C790.6 197.7 793 187.3 794.7 178.8C796.4 170.3 797.6 163.4 799.3 155.7C800.9 148 802.7 139.8 804.6 132.5C806.5 125.2 808.7 117.9 810.9 111.7C813.1 105.5 815.3 100.3 817.8 95.5C820.3 90.7 823 86.3 825.9 82.8C828.8 79.3 832 76.6 835.1 74.7C838.2 72.8 840.9 72.3 844.4 71.2C847.9 70.1 851.4 69.1 856 68.2C860.6 67.3 866.4 66.6 872.2 65.9C878 65.2 883.3 64.6 890.7 64.3C898.1 64 906 64.3 916.5 64.2C927 64.1 941.3 63.8 953.8 63.5C966.2 63.2 978.5 62.6 991.2 62.2C1003.9 61.8 1022.7 61.2 1030 61C1037.3 60.8 1033.3 60.9 1035 60.9C1036.7 61 1038.4 61.1 1040 61.2C1041.7 61.2 1043.4 61.4 1045.1 61.3C1046.7 61.2 1048.4 60.8 1050.1 60.6C1051.7 60.4 1053.4 60.1 1055.1 60C1056.8 60 1058.4 60.2 1060.1 60.2C1061.8 60.2 1063.5 60 1065.1 60.1C1066.8 60.2 1068.5 60.7 1070.1 60.8C1071.8 61 1073.5 61 1075.2 61.1C1076.8 61.1 1078.5 61.1 1080.2 61.1C1081.9 61.1 1083.5 61 1085.2 61C1086.9 61 1088.5 61.2 1090.2 61.1C1091.9 61 1093.6 60.5 1095.2 60.4C1096.9 60.3 1098.6 60.5 1100.3 60.4C1101.9 60.4 1103.6 60 1105.3 60C1106.9 60.1 1108.6 60.8 1110.3 60.8C1112 60.8 1113.6 60.1 1115.3 60.1C1117 60.1 1118.7 60.7 1120.3 60.7C1122 60.7 1123.7 60.1 1125.3 60.1C1127 60 1128.7 60.5 1130.4 60.5C1132 60.5 1133.7 60.3 1135.4 60.3C1137.1 60.2 1138.7 60.1 1140.4 60.2C1142.1 60.3 1143.7 60.8 1145.4 60.8C1147.1 60.8 1148.8 60.2 1150.4 60C1152.1 59.8 1153.8 59.5 1155.5 59.6C1157.1 59.7 1158.8 60.4 1160.5 60.5C1162.1 60.7 1163.8 60.6 1165.5 60.5C1167.2 60.4 1168.8 59.9 1170.5 59.9C1172.2 60 1173.9 60.6 1175.5 60.9C1177.2 61.1 1178.9 61.4 1180.5 61.3C1182.2 61.3 1183.9 60.6 1185.6 60.5C1187.2 60.3 1188.9 60.5 1190.6 60.4C1192.3 60.3 1193.9 60 1195.6 59.9C1197.3 59.8 1198.9 59.8 1200.6 59.9C1202.3 59.9 1204 60.3 1205.6 60.3C1207.3 60.3 1209 59.9 1210.7 59.9C1212.3 59.9 1214 60.4 1215.7 60.4C1217.3 60.4 1219 60 1220.7 59.8C1222.4 59.7 1224 59.5 1225.7 59.6C1227.4 59.7 1229.1 60.3 1230.7 60.4C1232.4 60.5 1234.1 60.3 1235.7 60.3C1237.4 60.3 1239.1 60.2 1240.8 60.3C1242.4 60.3 1244.1 60.5 1245.8 60.5C1247.5 60.5 1249.1 60.5 1250.8 60.5C1252.5 60.4 1254.1 60.4 1255.8 60.3C1257.5 60.2 1259.2 59.7 1260.8 59.7C1262.5 59.7 1264.2 60.1 1265.9 60.4C1267.5 60.6 1269.2 60.9 1270.9 61.1C1272.5 61.3 1274.2 61.5 1275.9 61.5C1277.6 61.6 1279.2 61.5 1280.9 61.3C1282.6 61.2 1284.3 60.9 1285.9 60.8C1287.6 60.7 1289.3 60.5 1290.9 60.5C1292.6 60.5 1294.3 60.7 1296 60.8C1297.6 60.8 1299.3 61 1301 60.9C1302.7 60.8 1305.2 60.3 1306 60.2" fill="none" stroke="#37a324" stroke-width="2.5" stroke-linejoin="round" stroke-linecap="butt"/>
<path d="M780.6 354.6C781 349.7 782.2 334.1 783 325C783.8 315.9 784.4 309.1 785.4 300.2C786.4 291.2 787.5 281.5 788.9 271.3C790.2 261.1 792 248.9 793.5 238.9C795 228.9 796.6 220.1 798.1 211.2C799.6 202.3 801.1 194.6 802.8 185.7C804.5 176.8 806.6 166.9 808.5 158C810.4 149.1 812.2 140.6 814.3 132.5C816.4 124.4 819 116.2 821.3 109.4C823.6 102.7 825.9 96.8 828.2 92C830.5 87.2 832.4 83.8 835.1 80.5C837.8 77.2 840.9 74.5 844.4 72.4C847.9 70.3 851.4 69.2 856 67.8C860.6 66.4 866.4 65.2 872.2 64.3C878 63.4 885.4 62.8 890.7 62.4C896 62 893.5 62.4 904 62.2C914.5 62.1 932.8 61.8 953.8 61.5C974.8 61.2 1016.5 60.7 1030 60.5C1043.5 60.3 1033.3 60.2 1035 60.2C1036.7 60.2 1038.4 60.5 1040 60.6C1041.7 60.7 1043.4 60.7 1045.1 60.8C1046.7 60.9 1048.4 61.2 1050.1 61.2C1051.7 61.1 1053.4 60.6 1055.1 60.5C1056.8 60.3 1058.4 60.2 1060.1 60.1C1061.8 60 1063.5 59.8 1065.1 59.8C1066.8 59.7 1068.5 59.6 1070.1 59.7C1071.8 59.8 1073.5 60.3 1075.2 60.3C1076.8 60.4 1078.5 59.9 1080.2 59.9C1081.9 59.9 1083.5 60.2 1085.2 60.2C1086.9 60.2 1088.5 60 1090.2 59.9C1091.9 59.9 1093.6 59.8 1095.2 59.9C1096.9 59.9 1098.6 59.9 1100.3 60C1101.9 60.2 1103.6 60.6 1105.3 60.7C1106.9 60.8 1108.6 60.9 1110.3 60.8C1112 60.6 1113.6 60.1 1115.3 60C1117 59.8 1118.7 59.9 1120.3 59.9C1122 59.8 1123.7 59.5 1125.3 59.6C1127 59.7 1128.7 60.3 1130.4 60.5C1132 60.7 1133.7 60.8 1135.4 60.9C1137.1 61 1138.7 61.1 1140.4 61.2C1142.1 61.3 1143.7 61.3 1145.4 61.4C1147.1 61.4 1148.8 61.3 1150.4 61.4C1152.1 61.4 1153.8 61.6 1155.5 61.6C1157.1 61.7 1158.8 61.7 1160.5 61.6C1162.1 61.5 1163.8 60.9 1165.5 60.8C1167.2 60.7 1168.8 61.2 1170.5 61.2C1172.2 61.2 1173.9 60.9 1175.5 60.9C1177.2 60.9 1178.9 61.1 1180.5 61.1C1182.2 61.1 1183.9 61 1185.6 60.9C1187.2 60.9 1188.9 60.8 1190.6 60.7C1192.3 60.6 1193.9 60.5 1195.6 60.4C1197.3 60.4 1198.9 60.4 1200.6 60.3C1202.3 60.3 1204 60.2 1205.6 60.1C1207.3 60 1209 59.7 1210.7 59.8C1212.3 59.8 1214 60.3 1215.7 60.5C1217.3 60.7 1219 60.8 1220.7 60.9C1222.4 61.1 1224 61.4 1225.7 61.4C1227.4 61.5 1229.1 61.4 1230.7 61.3C1232.4 61.3 1234.1 61.1 1235.7 61.1C1237.4 61 1239.1 61.3 1240.8 61.2C1242.4 61.1 1244.1 60.5 1245.8 60.4C1247.5 60.3 1249.1 60.7 1250.8 60.7C1252.5 60.7 1254.1 60.6 1255.8 60.5C1257.5 60.4 1259.2 60.2 1260.8 60.1C1262.5 59.9 1264.2 59.8 1265.9 59.8C1267.5 59.8 1269.2 60.1 1270.9 60.1C1272.5 60.1 1274.2 59.9 1275.9 59.9C1277.6 59.9 1279.2 60 1280.9 60.1C1282.6 60.2 1284.3 60.4 1285.9 60.4C1287.6 60.4 1289.3 60.4 1290.9 60.3C1292.6 60.2 1294.3 59.9 1296 59.9C1297.6 59.8 1299.3 60.1 1301 60.1C1302.7 60.1 1305.2 59.9 1306 59.9" fill="none" stroke="#dcd22a" stroke-width="2.5" stroke-linejoin="round" stroke-linecap="butt"/>
<path d="M780.6 416.9C781.3 410.7 783.1 393.6 784.6 379.5C786.1 365.4 788.1 345.4 789.5 332.2C790.9 319 791.8 310.3 793 300.2C794.2 290.1 795.6 281.5 797 271.3C798.4 261.1 800.1 248.9 801.6 238.9C803.1 228.9 804.7 220.1 806.2 211.2C807.8 202.3 809.2 194.6 810.9 185.7C812.6 176.8 814.7 166.9 816.6 158C818.5 149.1 820.4 140.6 822.4 132.5C824.4 124.4 826.7 116.2 828.7 109.4C830.8 102.7 832.7 96.8 834.7 92C836.7 87.2 838.5 83.8 840.9 80.5C843.3 77.2 846.1 74.6 849 72.4C851.9 70.2 854.4 68.8 858.3 67.3C862.2 65.8 867.6 64.2 872.2 63.1C876.8 62 876.5 61.1 886 60.8C895.5 60.4 917.6 61.2 928.9 61C940.2 60.8 936.9 59.9 953.8 59.7C970.6 59.5 1016.5 59.8 1030 59.7C1043.5 59.6 1033.3 59.2 1035 59.2C1036.7 59.2 1038.4 59.6 1040 59.7C1041.7 59.9 1043.4 59.9 1045.1 60C1046.7 60.1 1048.4 60.6 1050.1 60.6C1051.7 60.6 1053.4 60.2 1055.1 60C1056.8 59.8 1058.4 59.6 1060.1 59.6C1061.8 59.7 1063.5 60 1065.1 60.1C1066.8 60.2 1068.5 60.3 1070.1 60.3C1071.8 60.3 1073.5 60 1075.2 59.9C1076.8 59.9 1078.5 60.2 1080.2 60.3C1081.9 60.3 1083.5 60 1085.2 60.1C1086.9 60.1 1088.5 60.5 1090.2 60.5C1091.9 60.5 1093.6 60 1095.2 59.9C1096.9 59.7 1098.6 59.5 1100.3 59.6C1101.9 59.7 1103.6 60.4 1105.3 60.5C1106.9 60.6 1108.6 60.3 1110.3 60.2C1112 60.1 1113.6 59.9 1115.3 59.9C1117 60 1118.7 60.4 1120.3 60.6C1122 60.7 1123.7 60.8 1125.3 60.7C1127 60.6 1128.7 60.2 1130.4 60.1C1132 60.1 1133.7 60.3 1135.4 60.4C1137.1 60.4 1138.7 60.7 1140.4 60.7C1142.1 60.6 1143.7 60.2 1145.4 60.1C1147.1 60.1 1148.8 60.5 1150.4 60.5C1152.1 60.5 1153.8 60.1 1155.5 60C1157.1 59.9 1158.8 60 1160.5 60C1162.1 59.9 1163.8 59.7 1165.5 59.6C1167.2 59.5 1168.8 59.4 1170.5 59.5C1172.2 59.7 1173.9 60.4 1175.5 60.6C1177.2 60.7 1178.9 60.3 1180.5 60.4C1182.2 60.5 1183.9 61.1 1185.6 61.1C1187.2 61.2 1188.9 60.8 1190.6 60.8C1192.3 60.7 1193.9 60.8 1195.6 60.8C1197.3 60.9 1198.9 61.2 1200.6 61.2C1202.3 61.3 1204 61.3 1205.6 61.2C1207.3 61.1 1209 60.5 1210.7 60.4C1212.3 60.3 1214 60.5 1215.7 60.5C1217.3 60.6 1219 60.8 1220.7 60.7C1222.4 60.7 1224 60.3 1225.7 60.2C1227.4 60 1229.1 59.7 1230.7 59.7C1232.4 59.8 1234.1 60.4 1235.7 60.6C1237.4 60.7 1239.1 60.6 1240.8 60.6C1242.4 60.5 1244.1 60.2 1245.8 60.1C1247.5 60 1249.1 60.2 1250.8 60.2C1252.5 60.2 1254.1 59.9 1255.8 59.9C1257.5 60 1259.2 60.5 1260.8 60.6C1262.5 60.7 1264.2 60.6 1265.9 60.5C1267.5 60.4 1269.2 60 1270.9 60C1272.5 60 1274.2 60.6 1275.9 60.6C1277.6 60.6 1279.2 60.1 1280.9 60C1282.6 59.9 1284.3 60 1285.9 59.9C1287.6 59.8 1289.3 59.4 1290.9 59.5C1292.6 59.5 1294.3 60.2 1296 60.2C1297.6 60.3 1299.3 59.8 1301 59.8C1302.7 59.8 1305.2 60.1 1306 60.1" fill="none" stroke="#e62826" stroke-width="2.5" stroke-linejoin="round" stroke-linecap="butt"/>
<rect x="780.6" y="29.9" width="525.4" height="422.90000000000003" fill="none" stroke="#0a0a0a" stroke-width="1.9"/>
<g stroke="#0a0a0a" stroke-width="1.8">
<line x1="780.6" y1="452.8" x2="780.6" y2="460.8"/>
<line x1="868.2" y1="452.8" x2="868.2" y2="460.8"/>
<line x1="955.7" y1="452.8" x2="955.7" y2="460.8"/>
<line x1="1043.3" y1="452.8" x2="1043.3" y2="460.8"/>
<line x1="1130.9" y1="452.8" x2="1130.9" y2="460.8"/>
<line x1="1218.5" y1="452.8" x2="1218.5" y2="460.8"/>
<line x1="1306" y1="452.8" x2="1306" y2="460.8"/>
<line x1="824.4" y1="452.8" x2="824.4" y2="456.8"/>
<line x1="912" y1="452.8" x2="912" y2="456.8"/>
<line x1="999.5" y1="452.8" x2="999.5" y2="456.8"/>
<line x1="1087.1" y1="452.8" x2="1087.1" y2="456.8"/>
<line x1="1174.7" y1="452.8" x2="1174.7" y2="456.8"/>
<line x1="1262.2" y1="452.8" x2="1262.2" y2="456.8"/>
<line x1="772.6" y1="60.1" x2="780.6" y2="60.1"/>
<line x1="772.6" y1="120.5" x2="780.6" y2="120.5"/>
<line x1="772.6" y1="180.9" x2="780.6" y2="180.9"/>
<line x1="772.6" y1="241.3" x2="780.6" y2="241.3"/>
<line x1="772.6" y1="301.7" x2="780.6" y2="301.7"/>
<line x1="772.6" y1="362.1" x2="780.6" y2="362.1"/>
<line x1="772.6" y1="422.5" x2="780.6" y2="422.5"/>
<line x1="776.6" y1="29.9" x2="780.6" y2="29.9"/>
<line x1="776.6" y1="90.3" x2="780.6" y2="90.3"/>
<line x1="776.6" y1="150.7" x2="780.6" y2="150.7"/>
<line x1="776.6" y1="211.1" x2="780.6" y2="211.1"/>
<line x1="776.6" y1="271.5" x2="780.6" y2="271.5"/>
<line x1="776.6" y1="331.9" x2="780.6" y2="331.9"/>
<line x1="776.6" y1="392.3" x2="780.6" y2="392.3"/>
<line x1="776.6" y1="452.7" x2="780.6" y2="452.7"/>
</g>
<g class="tk">
<text x="780.6" y="483.8" text-anchor="middle">240</text>
<text x="868.2" y="483.8" text-anchor="middle">260</text>
<text x="955.7" y="483.8" text-anchor="middle">280</text>
<text x="1043.3" y="483.8" text-anchor="middle">300</text>
<text x="1130.9" y="483.8" text-anchor="middle">320</text>
<text x="1218.5" y="483.8" text-anchor="middle">340</text>
<text x="1306" y="483.8" text-anchor="middle">360</text>
<text x="765.6" y="67" text-anchor="end">0</text>
<text x="765.6" y="127.4" text-anchor="end">-2</text>
<text x="765.6" y="187.8" text-anchor="end">-4</text>
<text x="765.6" y="248.2" text-anchor="end">-6</text>
<text x="765.6" y="308.6" text-anchor="end">-8</text>
<text x="765.6" y="369" text-anchor="end">-10</text>
<text x="765.6" y="429.4" text-anchor="end">-12</text>
</g>
<text x="1042.8" y="524" text-anchor="middle" class="tt">Wavelength(nm)</text>
<text transform="translate(714.6 242) rotate(-90)" text-anchor="middle" class="tt yt">[θ]·10<tspan class="sp" dy="-11.5">-2</tspan><tspan dy="11.5">(deg·cm</tspan><tspan class="sp" dy="-11.5">2</tspan><tspan dy="11.5">·dmol</tspan><tspan class="sp" dy="-11.5">-1</tspan><tspan dy="11.5">)</tspan></text>
<rect x="1185.4" y="303.1" width="110" height="138.7" fill="#fff" stroke="#3e3a35" stroke-width="1"/>
<line x1="1188.8" y1="318.5" x2="1227.8" y2="318.5" stroke="#0a0a0a" stroke-width="3.7" stroke-linecap="round"/>
<text x="1233.4" y="325.7" class="lg">20<tspan class="cj" dx="2.5">℃</tspan></text>
<line x1="1188.8" y1="345.6" x2="1227.8" y2="345.6" stroke="#14389a" stroke-width="2.6" stroke-linecap="round"/>
<text x="1233.4" y="352.8" class="lg">40<tspan class="cj" dx="2.5">℃</tspan></text>
<line x1="1188.8" y1="372.7" x2="1227.8" y2="372.7" stroke="#37a324" stroke-width="2.6" stroke-linecap="round"/>
<text x="1233.4" y="379.9" class="lg">60<tspan class="cj" dx="2.5">℃</tspan></text>
<line x1="1188.8" y1="399.8" x2="1227.8" y2="399.8" stroke="#dcd22a" stroke-width="2.6" stroke-linecap="round"/>
<text x="1233.4" y="407" class="lg">80<tspan class="cj" dx="2.5">℃</tspan></text>
<line x1="1188.8" y1="426.9" x2="1227.8" y2="426.9" stroke="#e62826" stroke-width="2.6" stroke-linecap="round"/>
<text x="1233.4" y="434.1" class="lg">100<tspan class="cj" dx="2.5">℃</tspan></text>
<g fill="none" stroke="#aaa6a6" stroke-width="4">
<line x1="840.8" y1="212.2" x2="840.8" y2="292.6"/>
<polyline points="829.3,266.4 840.8,293.6 852.3,266.4" stroke-linejoin="miter" stroke-miterlimit="10" stroke-linecap="round"/>
</g>
<text x="687.6" y="631.5" class="pl">D</text>
<path d="M780.6 1004.3C781.3 997.7 783.1 979.4 784.6 964.5C786.1 949.6 788.1 927.1 789.5 914.7C790.9 902.3 792 898.7 793 890.2C794 881.7 794.8 872.3 795.8 863.6C796.8 854.9 797.9 847.5 799.3 838.2C800.6 829 802.4 817.4 803.9 808.1C805.4 798.9 807 790.8 808.5 782.7C810 774.6 811.5 767.4 813.2 759.5C815 751.6 817.1 742.8 819 735.3C820.9 727.8 822.8 720.6 824.7 714.4C826.6 708.2 828.4 703.4 830.5 698.2C832.6 693 835.2 687.6 837.5 683.2C839.8 678.8 842.1 674.8 844.4 671.6C846.7 668.4 849 666 851.3 664C853.6 662 854.8 661.2 858.3 659.6C861.8 658 867.6 655.4 872.2 654.3C876.8 653.1 880.5 653.1 886 652.7C891.5 652.3 899.5 652.4 905 652C910.5 651.6 914.6 650.4 919 650.5C923.4 650.6 925.6 652.4 931.4 652.7C937.2 653 937.4 652.6 953.8 652.2C970.2 651.8 1016.5 650.7 1030 650.5C1043.5 650.3 1033.3 650.7 1035 650.8C1036.7 650.9 1038.4 651.3 1040 651.2C1041.7 651.2 1043.4 650.5 1045.1 650.5C1046.7 650.5 1048.4 651.3 1050.1 651.3C1051.7 651.3 1053.4 650.7 1055.1 650.6C1056.8 650.5 1058.4 650.9 1060.1 650.9C1061.8 650.8 1063.5 650.3 1065.1 650.3C1066.8 650.2 1068.5 650.8 1070.1 650.8C1071.8 650.8 1073.5 650.3 1075.2 650.3C1076.8 650.3 1078.5 650.7 1080.2 650.8C1081.9 650.9 1083.5 651 1085.2 651.1C1086.9 651.2 1088.5 651.4 1090.2 651.4C1091.9 651.4 1093.6 651.1 1095.2 651.1C1096.9 651.1 1098.6 651.4 1100.3 651.6C1101.9 651.7 1103.6 652.1 1105.3 652C1106.9 651.9 1108.6 651.2 1110.3 651C1112 650.9 1113.6 650.9 1115.3 651.1C1117 651.2 1118.7 651.6 1120.3 651.7C1122 651.8 1123.7 651.8 1125.3 651.8C1127 651.7 1128.7 651.5 1130.4 651.4C1132 651.3 1133.7 651 1135.4 651C1137.1 651.1 1138.7 651.7 1140.4 651.7C1142.1 651.7 1143.7 650.9 1145.4 650.9C1147.1 650.8 1148.8 651.2 1150.4 651.3C1152.1 651.5 1153.8 651.8 1155.5 651.7C1157.1 651.7 1158.8 651.1 1160.5 651C1162.1 650.8 1163.8 650.9 1165.5 650.8C1167.2 650.7 1168.8 650.6 1170.5 650.6C1172.2 650.7 1173.9 650.9 1175.5 650.9C1177.2 650.9 1178.9 650.7 1180.5 650.8C1182.2 650.9 1183.9 651.3 1185.6 651.5C1187.2 651.6 1188.9 651.9 1190.6 651.9C1192.3 651.9 1193.9 651.3 1195.6 651.3C1197.3 651.3 1198.9 651.9 1200.6 651.8C1202.3 651.7 1204 651.1 1205.6 650.9C1207.3 650.7 1209 650.4 1210.7 650.4C1212.3 650.4 1214 650.8 1215.7 650.9C1217.3 651.1 1219 651.3 1220.7 651.4C1222.4 651.5 1224 651.6 1225.7 651.7C1227.4 651.9 1229.1 652.1 1230.7 652.2C1232.4 652.3 1234.1 652.4 1235.7 652.2C1237.4 652.1 1239.1 651.6 1240.8 651.5C1242.4 651.4 1244.1 651.6 1245.8 651.7C1247.5 651.8 1249.1 652.1 1250.8 652C1252.5 651.9 1254.1 651.2 1255.8 651.1C1257.5 650.9 1259.2 651.2 1260.8 651.1C1262.5 651 1264.2 650.7 1265.9 650.6C1267.5 650.5 1269.2 650.3 1270.9 650.3C1272.5 650.3 1274.2 650.5 1275.9 650.6C1277.6 650.7 1279.2 650.8 1280.9 651C1282.6 651.2 1284.3 651.7 1285.9 651.7C1287.6 651.7 1289.3 651.1 1290.9 651C1292.6 650.8 1294.3 650.9 1296 651C1297.6 651.2 1299.3 651.6 1301 651.7C1302.7 651.9 1305.2 651.8 1306 651.9" fill="none" stroke="#e62826" stroke-width="2.5" stroke-linejoin="round" stroke-linecap="butt"/>
<path d="M780.6 954.5C781.3 947.9 783.6 925.4 784.6 914.7C785.6 904 785.9 898.3 786.6 890.2C787.3 882.1 788 874.6 788.9 865.9C789.8 857.2 790.9 847.8 792.3 838.2C793.6 828.6 795.5 817.7 797 808.1C798.5 798.5 800.1 788.9 801.6 780.4C803.1 771.9 804.5 765.1 806.2 757.2C807.9 749.3 810.1 740.4 812 732.9C813.9 725.4 815.9 718.3 817.8 712.1C819.7 705.9 821.5 701.1 823.6 695.9C825.7 690.7 828.2 685.1 830.5 680.9C832.8 676.7 835.2 673.4 837.5 670.5C839.8 667.6 842.1 665.2 844.4 663.5C846.7 661.8 847.4 661.5 851.3 660.1C855.1 658.7 861.7 656.2 867.5 655C873.3 653.8 879.8 653.4 886 653.1C892.2 652.8 897.9 653.2 905 653.1C912.1 653 920.8 652.7 928.9 652.7C937 652.7 936.9 653.2 953.8 652.9C970.6 652.6 1016.5 651.2 1030 651C1043.5 650.8 1033.3 651.4 1035 651.6C1036.7 651.8 1038.4 651.9 1040 652C1041.7 652.1 1043.4 652.3 1045.1 652.2C1046.7 652 1048.4 651.3 1050.1 651.1C1051.7 651 1053.4 651.2 1055.1 651.2C1056.8 651.2 1058.4 651.1 1060.1 651C1061.8 651 1063.5 651.2 1065.1 651.1C1066.8 651 1068.5 650.7 1070.1 650.5C1071.8 650.4 1073.5 650.3 1075.2 650.3C1076.8 650.3 1078.5 650.5 1080.2 650.5C1081.9 650.5 1083.5 650.3 1085.2 650.4C1086.9 650.4 1088.5 650.6 1090.2 650.6C1091.9 650.5 1093.6 650.2 1095.2 650.1C1096.9 650 1098.6 649.8 1100.3 649.9C1101.9 650 1103.6 650.5 1105.3 650.7C1106.9 650.8 1108.6 650.7 1110.3 650.7C1112 650.8 1113.6 650.8 1115.3 650.9C1117 651 1118.7 651.3 1120.3 651.3C1122 651.3 1123.7 651.2 1125.3 651C1127 650.9 1128.7 650.4 1130.4 650.4C1132 650.4 1133.7 651 1135.4 651.1C1137.1 651.2 1138.7 651.2 1140.4 651.2C1142.1 651.3 1143.7 651.4 1145.4 651.4C1147.1 651.4 1148.8 651.4 1150.4 651.4C1152.1 651.5 1153.8 652 1155.5 652C1157.1 652 1158.8 651.5 1160.5 651.4C1162.1 651.4 1163.8 651.7 1165.5 651.7C1167.2 651.6 1168.8 651.3 1170.5 651.3C1172.2 651.2 1173.9 651.3 1175.5 651.3C1177.2 651.3 1178.9 651.5 1180.5 651.4C1182.2 651.4 1183.9 651.2 1185.6 651C1187.2 650.9 1188.9 650.5 1190.6 650.5C1192.3 650.4 1193.9 650.6 1195.6 650.7C1197.3 650.8 1198.9 651.1 1200.6 651.2C1202.3 651.3 1204 651.3 1205.6 651.3C1207.3 651.3 1209 651.1 1210.7 651.1C1212.3 651.1 1214 651.4 1215.7 651.3C1217.3 651.3 1219 650.9 1220.7 650.8C1222.4 650.6 1224 650.5 1225.7 650.5C1227.4 650.4 1229.1 650.4 1230.7 650.5C1232.4 650.6 1234.1 651.1 1235.7 651.2C1237.4 651.2 1239.1 650.9 1240.8 650.7C1242.4 650.6 1244.1 650.4 1245.8 650.3C1247.5 650.2 1249.1 650.2 1250.8 650.1C1252.5 650 1254.1 649.8 1255.8 649.8C1257.5 649.8 1259.2 649.9 1260.8 650C1262.5 650.1 1264.2 650.4 1265.9 650.6C1267.5 650.8 1269.2 651.2 1270.9 651.2C1272.5 651.3 1274.2 651 1275.9 650.9C1277.6 650.9 1279.2 650.9 1280.9 650.8C1282.6 650.8 1284.3 650.7 1285.9 650.6C1287.6 650.6 1289.3 650.5 1290.9 650.5C1292.6 650.6 1294.3 651 1296 651.2C1297.6 651.3 1299.3 651.3 1301 651.2C1302.7 651.1 1305.2 650.9 1306 650.8" fill="none" stroke="#dcd22a" stroke-width="2.5" stroke-linejoin="round" stroke-linecap="butt"/>
<path d="M780.6 875.2C781 871 782.1 858.7 783.1 849.8C784.1 840.9 785.2 831.6 786.6 822C788 812.4 789.7 801.1 791.2 791.9C792.7 782.6 794.3 774.4 795.8 766.5C797.3 758.6 798.7 751.8 800.4 744.5C802.1 737.2 804.3 729.2 806.2 722.5C808.1 715.8 809.9 709.8 812 704C814.1 698.2 816.6 692.4 818.9 687.8C821.2 683.2 823.6 679.6 825.9 676.3C828.2 673 830.3 670.5 832.8 668.2C835.3 665.9 838.2 663.8 840.9 662.4C843.6 661 844.6 660.6 849 659.6C853.4 658.6 858.2 657.4 867.5 656.6C876.8 655.8 894.8 655.4 905 655C915.2 654.6 920.8 654.4 928.9 654.2C937 654 936.9 654.4 953.8 653.9C970.6 653.4 1016.5 651.7 1030 651.4C1043.5 651.1 1033.3 652.1 1035 652C1036.7 652 1038.4 651.5 1040 651.3C1041.7 651 1043.4 650.6 1045.1 650.6C1046.7 650.7 1048.4 651.5 1050.1 651.6C1051.7 651.7 1053.4 651.2 1055.1 651C1056.8 650.9 1058.4 650.6 1060.1 650.6C1061.8 650.6 1063.5 651 1065.1 651.1C1066.8 651.1 1068.5 650.9 1070.1 650.9C1071.8 651 1073.5 651.6 1075.2 651.6C1076.8 651.6 1078.5 651.1 1080.2 651.1C1081.9 651.1 1083.5 651.8 1085.2 651.8C1086.9 651.8 1088.5 651.4 1090.2 651.3C1091.9 651.2 1093.6 651.3 1095.2 651.4C1096.9 651.5 1098.6 651.8 1100.3 651.9C1101.9 652 1103.6 651.8 1105.3 651.9C1106.9 651.9 1108.6 652.2 1110.3 652.2C1112 652.2 1113.6 652.3 1115.3 652.1C1117 651.9 1118.7 651.1 1120.3 651.1C1122 651 1123.7 651.5 1125.3 651.6C1127 651.7 1128.7 651.6 1130.4 651.5C1132 651.5 1133.7 651.2 1135.4 651.1C1137.1 650.9 1138.7 650.6 1140.4 650.7C1142.1 650.7 1143.7 651.2 1145.4 651.3C1147.1 651.4 1148.8 651.3 1150.4 651.3C1152.1 651.4 1153.8 651.8 1155.5 651.9C1157.1 652 1158.8 651.9 1160.5 651.9C1162.1 652 1163.8 652.3 1165.5 652.3C1167.2 652.2 1168.8 652 1170.5 651.9C1172.2 651.8 1173.9 651.9 1175.5 651.8C1177.2 651.8 1178.9 651.8 1180.5 651.7C1182.2 651.6 1183.9 651.1 1185.6 651.1C1187.2 651.1 1188.9 651.7 1190.6 651.8C1192.3 651.8 1193.9 651.3 1195.6 651.2C1197.3 651.2 1198.9 651.4 1200.6 651.6C1202.3 651.7 1204 652 1205.6 652C1207.3 652.1 1209 652 1210.7 651.9C1212.3 651.7 1214 651.1 1215.7 651.1C1217.3 651 1219 651.4 1220.7 651.5C1222.4 651.6 1224 651.7 1225.7 651.6C1227.4 651.5 1229.1 651.2 1230.7 651C1232.4 650.8 1234.1 650.4 1235.7 650.4C1237.4 650.3 1239.1 650.7 1240.8 650.7C1242.4 650.7 1244.1 650.1 1245.8 650.2C1247.5 650.3 1249.1 651 1250.8 651.2C1252.5 651.3 1254.1 651.1 1255.8 651.1C1257.5 651.1 1259.2 651.2 1260.8 651.2C1262.5 651.1 1264.2 651 1265.9 651C1267.5 651 1269.2 651.1 1270.9 651.3C1272.5 651.4 1274.2 651.8 1275.9 651.8C1277.6 651.8 1279.2 651.4 1280.9 651.2C1282.6 651.1 1284.3 651 1285.9 651C1287.6 651 1289.3 651.2 1290.9 651.2C1292.6 651.1 1294.3 650.9 1296 650.9C1297.6 650.8 1299.3 651 1301 651.1C1302.7 651.1 1305.2 651.1 1306 651.2" fill="none" stroke="#37a324" stroke-width="2.5" stroke-linejoin="round" stroke-linecap="butt"/>
<path d="M780.6 793.1C781.4 789.4 783.6 778.6 785.4 771.1C787.2 763.6 789.1 755.7 791.2 748C793.3 740.3 795.8 731.8 798.1 724.8C800.4 717.8 802.8 711.9 805.1 706.3C807.4 700.7 809.7 695.7 812 691.3C814.3 686.9 816.6 683.1 818.9 679.7C821.2 676.4 823.6 673.6 825.9 671.2C828.2 668.8 830.5 666.9 832.8 665.2C835.1 663.5 837.1 662.2 839.8 661.2C842.5 660.2 844.4 659.8 849 659.4C853.6 659 858.2 659.1 867.5 658.9C876.8 658.7 894.8 658.7 905 658.2C915.2 657.7 920.8 656.5 928.9 655.9C937 655.3 945.5 655 953.8 654.7C962.1 654.4 966 654.7 978.7 654.2C991.4 653.7 1020.6 652.2 1030 651.7C1039.4 651.2 1033.3 651.2 1035 651.2C1036.7 651.2 1038.4 651.5 1040 651.6C1041.7 651.7 1043.4 651.8 1045.1 651.8C1046.7 651.8 1048.4 651.8 1050.1 651.7C1051.7 651.6 1053.4 651.2 1055.1 651.2C1056.8 651.2 1058.4 651.6 1060.1 651.7C1061.8 651.9 1063.5 652 1065.1 652.1C1066.8 652.1 1068.5 651.9 1070.1 651.8C1071.8 651.8 1073.5 651.8 1075.2 651.7C1076.8 651.6 1078.5 651.4 1080.2 651.2C1081.9 651 1083.5 650.6 1085.2 650.6C1086.9 650.5 1088.5 650.6 1090.2 650.7C1091.9 650.8 1093.6 651.1 1095.2 651.1C1096.9 651 1098.6 650.5 1100.3 650.5C1101.9 650.6 1103.6 651.2 1105.3 651.2C1106.9 651.3 1108.6 651 1110.3 650.9C1112 650.8 1113.6 650.7 1115.3 650.6C1117 650.5 1118.7 650.1 1120.3 650.2C1122 650.3 1123.7 651 1125.3 651.3C1127 651.5 1128.7 651.4 1130.4 651.5C1132 651.6 1133.7 651.9 1135.4 651.9C1137.1 651.9 1138.7 651.9 1140.4 651.7C1142.1 651.5 1143.7 651 1145.4 650.8C1147.1 650.6 1148.8 650.7 1150.4 650.7C1152.1 650.7 1153.8 650.9 1155.5 650.9C1157.1 650.8 1158.8 650.3 1160.5 650.4C1162.1 650.5 1163.8 651.2 1165.5 651.3C1167.2 651.4 1168.8 651.2 1170.5 651C1172.2 650.9 1173.9 650.6 1175.5 650.6C1177.2 650.6 1178.9 651.2 1180.5 651.2C1182.2 651.2 1183.9 650.6 1185.6 650.7C1187.2 650.7 1188.9 651.3 1190.6 651.4C1192.3 651.5 1193.9 651.3 1195.6 651.2C1197.3 651.2 1198.9 651.3 1200.6 651.3C1202.3 651.2 1204 651 1205.6 651C1207.3 650.9 1209 651.1 1210.7 651C1212.3 650.9 1214 650.7 1215.7 650.6C1217.3 650.5 1219 650.1 1220.7 650.2C1222.4 650.2 1224 651 1225.7 651C1227.4 651.1 1229.1 650.7 1230.7 650.7C1232.4 650.7 1234.1 651.2 1235.7 651.2C1237.4 651.3 1239.1 650.7 1240.8 650.8C1242.4 650.8 1244.1 651.4 1245.8 651.6C1247.5 651.8 1249.1 651.9 1250.8 651.9C1252.5 652 1254.1 651.9 1255.8 652C1257.5 652 1259.2 652 1260.8 652C1262.5 651.9 1264.2 651.8 1265.9 651.7C1267.5 651.7 1269.2 651.9 1270.9 651.8C1272.5 651.7 1274.2 651.1 1275.9 651C1277.6 650.9 1279.2 650.9 1280.9 651C1282.6 651.1 1284.3 651.5 1285.9 651.5C1287.6 651.5 1289.3 650.9 1290.9 650.9C1292.6 650.9 1294.3 651.4 1296 651.6C1297.6 651.8 1299.3 652 1301 651.9C1302.7 651.9 1305.2 651.6 1306 651.5" fill="none" stroke="#14389a" stroke-width="2.5" stroke-linejoin="round" stroke-linecap="butt"/>
<path d="M780.6 743.3C781.4 741 783.6 734.5 785.4 729.5C787.2 724.5 789.1 718.5 791.2 713.3C793.3 708.1 795.4 703 798.1 698.2C800.8 693.4 804.3 688.4 807.4 684.4C810.5 680.4 813.5 676.9 816.6 674C819.7 671.1 823 669.1 825.9 667C828.8 664.9 831.9 662.5 834 661.2C836.1 659.9 836.1 659.8 838.6 659.4C841.1 659 845 659.1 849 658.9C853 658.7 859 658.1 862.9 658.2C866.8 658.3 868.4 659.5 872.2 659.4C876.1 659.3 880.5 658.1 886 657.8C891.5 657.4 897.9 657.3 905 657.3C912.1 657.3 920.8 657.8 928.9 657.7C937 657.6 946.3 656.9 953.8 656.7C961.3 656.5 968.4 657.2 973.8 656.7C979.2 656.2 981.2 654.4 986.2 653.9C991.2 653.4 996.3 654.2 1003.6 653.9C1010.9 653.6 1024.8 652.4 1030 652.2C1035.2 652 1033.3 652.6 1035 652.7C1036.7 652.8 1038.4 652.7 1040 652.7C1041.7 652.7 1043.4 652.7 1045.1 652.8C1046.7 652.8 1048.4 653.1 1050.1 653C1051.7 652.9 1053.4 652.3 1055.1 652.2C1056.8 652.1 1058.4 652.2 1060.1 652.3C1061.8 652.3 1063.5 652.5 1065.1 652.6C1066.8 652.7 1068.5 652.8 1070.1 652.8C1071.8 652.8 1073.5 652.6 1075.2 652.4C1076.8 652.3 1078.5 651.8 1080.2 651.7C1081.9 651.5 1083.5 651.4 1085.2 651.5C1086.9 651.6 1088.5 652.2 1090.2 652.2C1091.9 652.2 1093.6 651.5 1095.2 651.4C1096.9 651.2 1098.6 651 1100.3 651.1C1101.9 651.2 1103.6 651.8 1105.3 651.9C1106.9 651.9 1108.6 651.7 1110.3 651.6C1112 651.4 1113.6 651.2 1115.3 651C1117 650.9 1118.7 650.8 1120.3 650.9C1122 650.9 1123.7 651.5 1125.3 651.6C1127 651.6 1128.7 651.2 1130.4 651.2C1132 651.1 1133.7 651 1135.4 651C1137.1 651 1138.7 651.1 1140.4 651.2C1142.1 651.3 1143.7 651.6 1145.4 651.6C1147.1 651.6 1148.8 651.5 1150.4 651.4C1152.1 651.2 1153.8 650.8 1155.5 650.7C1157.1 650.6 1158.8 651 1160.5 651C1162.1 650.9 1163.8 650.5 1165.5 650.4C1167.2 650.2 1168.8 650.1 1170.5 650.1C1172.2 650 1173.9 650 1175.5 650.1C1177.2 650.2 1178.9 650.7 1180.5 650.7C1182.2 650.8 1183.9 650.5 1185.6 650.6C1187.2 650.6 1188.9 651.1 1190.6 651.1C1192.3 651.1 1193.9 650.7 1195.6 650.6C1197.3 650.5 1198.9 650.4 1200.6 650.3C1202.3 650.2 1204 649.9 1205.6 649.9C1207.3 650 1209 650.5 1210.7 650.7C1212.3 650.9 1214 651.3 1215.7 651.4C1217.3 651.4 1219 651 1220.7 650.9C1222.4 650.7 1224 650.7 1225.7 650.6C1227.4 650.5 1229.1 650.1 1230.7 650.1C1232.4 650.1 1234.1 650.6 1235.7 650.7C1237.4 650.8 1239.1 650.7 1240.8 650.6C1242.4 650.5 1244.1 650.2 1245.8 650.3C1247.5 650.3 1249.1 650.7 1250.8 650.8C1252.5 650.9 1254.1 651 1255.8 651.1C1257.5 651.1 1259.2 651.1 1260.8 651C1262.5 650.9 1264.2 650.6 1265.9 650.6C1267.5 650.6 1269.2 650.9 1270.9 651C1272.5 651.1 1274.2 651.1 1275.9 651.1C1277.6 651.1 1279.2 651.1 1280.9 651C1282.6 650.9 1284.3 650.5 1285.9 650.6C1287.6 650.6 1289.3 651.2 1290.9 651.4C1292.6 651.6 1294.3 651.7 1296 651.8C1297.6 651.8 1299.3 651.7 1301 651.8C1302.7 651.8 1305.2 652.1 1306 652.2" fill="none" stroke="#0a0a0a" stroke-width="3.0" stroke-linejoin="round" stroke-linecap="butt"/>
<rect x="780.6" y="620.6999999999999" width="525.4" height="422.9" fill="none" stroke="#0a0a0a" stroke-width="1.9"/>
<g stroke="#0a0a0a" stroke-width="1.8">
<line x1="780.6" y1="1043.6" x2="780.6" y2="1051.6"/>
<line x1="868.2" y1="1043.6" x2="868.2" y2="1051.6"/>
<line x1="955.7" y1="1043.6" x2="955.7" y2="1051.6"/>
<line x1="1043.3" y1="1043.6" x2="1043.3" y2="1051.6"/>
<line x1="1130.9" y1="1043.6" x2="1130.9" y2="1051.6"/>
<line x1="1218.5" y1="1043.6" x2="1218.5" y2="1051.6"/>
<line x1="1306" y1="1043.6" x2="1306" y2="1051.6"/>
<line x1="824.4" y1="1043.6" x2="824.4" y2="1047.6"/>
<line x1="912" y1="1043.6" x2="912" y2="1047.6"/>
<line x1="999.5" y1="1043.6" x2="999.5" y2="1047.6"/>
<line x1="1087.1" y1="1043.6" x2="1087.1" y2="1047.6"/>
<line x1="1174.7" y1="1043.6" x2="1174.7" y2="1047.6"/>
<line x1="1262.2" y1="1043.6" x2="1262.2" y2="1047.6"/>
<line x1="772.6" y1="650.9" x2="780.6" y2="650.9"/>
<line x1="772.6" y1="711.3" x2="780.6" y2="711.3"/>
<line x1="772.6" y1="771.7" x2="780.6" y2="771.7"/>
<line x1="772.6" y1="832.1" x2="780.6" y2="832.1"/>
<line x1="772.6" y1="892.5" x2="780.6" y2="892.5"/>
<line x1="772.6" y1="952.9" x2="780.6" y2="952.9"/>
<line x1="772.6" y1="1013.3" x2="780.6" y2="1013.3"/>
<line x1="776.6" y1="620.7" x2="780.6" y2="620.7"/>
<line x1="776.6" y1="681.1" x2="780.6" y2="681.1"/>
<line x1="776.6" y1="741.5" x2="780.6" y2="741.5"/>
<line x1="776.6" y1="801.9" x2="780.6" y2="801.9"/>
<line x1="776.6" y1="862.3" x2="780.6" y2="862.3"/>
<line x1="776.6" y1="922.7" x2="780.6" y2="922.7"/>
<line x1="776.6" y1="983.1" x2="780.6" y2="983.1"/>
<line x1="776.6" y1="1043.5" x2="780.6" y2="1043.5"/>
</g>
<g class="tk">
<text x="780.6" y="1074.6" text-anchor="middle">240</text>
<text x="868.2" y="1074.6" text-anchor="middle">260</text>
<text x="955.7" y="1074.6" text-anchor="middle">280</text>
<text x="1043.3" y="1074.6" text-anchor="middle">300</text>
<text x="1130.9" y="1074.6" text-anchor="middle">320</text>
<text x="1218.5" y="1074.6" text-anchor="middle">340</text>
<text x="1306" y="1074.6" text-anchor="middle">360</text>
<text x="765.6" y="657.8" text-anchor="end">0</text>
<text x="765.6" y="718.2" text-anchor="end">-2</text>
<text x="765.6" y="778.6" text-anchor="end">-4</text>
<text x="765.6" y="839" text-anchor="end">-6</text>
<text x="765.6" y="899.4" text-anchor="end">-8</text>
<text x="765.6" y="959.8" text-anchor="end">-10</text>
<text x="765.6" y="1020.2" text-anchor="end">-12</text>
</g>
<text x="1042.8" y="1115.8" text-anchor="middle" class="tt">Wavelength(nm)</text>
<text transform="translate(714.6 832.8) rotate(-90)" text-anchor="middle" class="tt yt">[θ]·10<tspan class="sp" dy="-11.5">-2</tspan><tspan dy="11.5">(deg·cm</tspan><tspan class="sp" dy="-11.5">2</tspan><tspan dy="11.5">·dmol</tspan><tspan class="sp" dy="-11.5">-1</tspan><tspan dy="11.5">)</tspan></text>
<rect x="1184.1" y="893.5" width="110.5" height="138.9" fill="#fff" stroke="#3e3a35" stroke-width="1"/>
<line x1="1187.5" y1="908.9" x2="1226.5" y2="908.9" stroke="#e62826" stroke-width="2.6" stroke-linecap="round"/>
<text x="1232.1" y="916.1" class="lg">100<tspan class="cj" dx="2.5">℃</tspan></text>
<line x1="1187.5" y1="936" x2="1226.5" y2="936" stroke="#dcd22a" stroke-width="2.6" stroke-linecap="round"/>
<text x="1232.1" y="943.2" class="lg">80<tspan class="cj" dx="2.5">℃</tspan></text>
<line x1="1187.5" y1="963.1" x2="1226.5" y2="963.1" stroke="#37a324" stroke-width="2.6" stroke-linecap="round"/>
<text x="1232.1" y="970.3" class="lg">60<tspan class="cj" dx="2.5">℃</tspan></text>
<line x1="1187.5" y1="990.2" x2="1226.5" y2="990.2" stroke="#14389a" stroke-width="2.6" stroke-linecap="round"/>
<text x="1232.1" y="997.4" class="lg">40<tspan class="cj" dx="2.5">℃</tspan></text>
<line x1="1187.5" y1="1017.3" x2="1226.5" y2="1017.3" stroke="#0a0a0a" stroke-width="3.7" stroke-linecap="round"/>
<text x="1232.1" y="1024.5" class="lg">20<tspan class="cj" dx="2.5">℃</tspan></text>
<g fill="none" stroke="#aaa6a6" stroke-width="4">
<line x1="840.8" y1="881.9" x2="840.8" y2="801.1"/>
<polyline points="829.3,827.3 840.8,800.1 852.3,827.3" stroke-linejoin="miter" stroke-miterlimit="10" stroke-linecap="round"/>
</g>
<text x="1389.6" y="614.5" class="pl">E</text>
<polyline points="1503.5,659.7 1556,689.4 1608.7,799.5 1661,938.6 1713.7,998.5 1766.3,995.2" fill="none" stroke="#de2020" stroke-width="1.9" stroke-linejoin="round" stroke-linecap="butt"/>
<polyline points="1766.3,995.2 1819,955.6 1871.3,855.2 1923.7,752 1976.5,693.4" fill="none" stroke="#11318e" stroke-width="1.9" stroke-linejoin="round" stroke-linecap="butt"/>
<rect x="1499" y="655.2" width="9" height="9" fill="#e8363a" stroke="#fff" stroke-width="3.6" paint-order="stroke"/>
<rect x="1551.5" y="684.9" width="9" height="9" fill="#e8363a" stroke="#fff" stroke-width="3.6" paint-order="stroke"/>
<rect x="1604.2" y="795" width="9" height="9" fill="#e8363a" stroke="#fff" stroke-width="3.6" paint-order="stroke"/>
<rect x="1656.5" y="934.1" width="9" height="9" fill="#e8363a" stroke="#fff" stroke-width="3.6" paint-order="stroke"/>
<rect x="1709.2" y="994" width="9" height="9" fill="#e8363a" stroke="#fff" stroke-width="3.6" paint-order="stroke"/>
<circle cx="1766.3" cy="995.2" r="5" fill="#1f4fa8" stroke="#fff" stroke-width="3.6" paint-order="stroke"/>
<circle cx="1819" cy="955.6" r="5" fill="#1f4fa8" stroke="#fff" stroke-width="3.6" paint-order="stroke"/>
<circle cx="1871.3" cy="855.2" r="5" fill="#1f4fa8" stroke="#fff" stroke-width="3.6" paint-order="stroke"/>
<circle cx="1923.7" cy="752" r="5" fill="#1f4fa8" stroke="#fff" stroke-width="3.6" paint-order="stroke"/>
<circle cx="1976.5" cy="693.4" r="5" fill="#1f4fa8" stroke="#fff" stroke-width="3.6" paint-order="stroke"/>
<g stroke="#0a0a0a" stroke-width="1.8" fill="none">
<polyline points="1478.3,620.2 1478.3,1044 2003.5,1044"/>
<line x1="1503.6" y1="1044" x2="1503.6" y2="1052"/>
<line x1="1556.1" y1="1044" x2="1556.1" y2="1052"/>
<line x1="1608.7" y1="1044" x2="1608.7" y2="1052"/>
<line x1="1661.2" y1="1044" x2="1661.2" y2="1052"/>
<line x1="1713.8" y1="1044" x2="1713.8" y2="1052"/>
<line x1="1766.3" y1="1044" x2="1766.3" y2="1052"/>
<line x1="1818.9" y1="1044" x2="1818.9" y2="1052"/>
<line x1="1871.4" y1="1044" x2="1871.4" y2="1052"/>
<line x1="1924" y1="1044" x2="1924" y2="1052"/>
<line x1="1976.5" y1="1044" x2="1976.5" y2="1052"/>
<line x1="1477.3" y1="1044" x2="1477.3" y2="1048.5"/>
<line x1="1529.9" y1="1044" x2="1529.9" y2="1048.5"/>
<line x1="1582.4" y1="1044" x2="1582.4" y2="1048.5"/>
<line x1="1635" y1="1044" x2="1635" y2="1048.5"/>
<line x1="1687.5" y1="1044" x2="1687.5" y2="1048.5"/>
<line x1="1740.1" y1="1044" x2="1740.1" y2="1048.5"/>
<line x1="1792.6" y1="1044" x2="1792.6" y2="1048.5"/>
<line x1="1845.2" y1="1044" x2="1845.2" y2="1048.5"/>
<line x1="1897.7" y1="1044" x2="1897.7" y2="1048.5"/>
<line x1="1950.3" y1="1044" x2="1950.3" y2="1048.5"/>
<line x1="2002.8" y1="1044" x2="2002.8" y2="1048.5"/>
<line x1="1469.3" y1="676.9" x2="1478.3" y2="676.9"/>
<line x1="1469.3" y1="789.6" x2="1478.3" y2="789.6"/>
<line x1="1469.3" y1="902.4" x2="1478.3" y2="902.4"/>
<line x1="1469.3" y1="1015.1" x2="1478.3" y2="1015.1"/>
<line x1="1473.3" y1="620.5" x2="1478.3" y2="620.5"/>
<line x1="1473.3" y1="733.3" x2="1478.3" y2="733.3"/>
<line x1="1473.3" y1="846" x2="1478.3" y2="846"/>
<line x1="1473.3" y1="958.8" x2="1478.3" y2="958.8"/>
</g>
<g class="tk">
<text x="1503.6" y="1075.1" text-anchor="middle">20</text>
<text x="1556.1" y="1075.1" text-anchor="middle">40</text>
<text x="1608.7" y="1075.1" text-anchor="middle">60</text>
<text x="1661.2" y="1075.1" text-anchor="middle">80</text>
<text x="1713.8" y="1075.1" text-anchor="middle">100</text>
<text x="1766.3" y="1075.1" text-anchor="middle">100</text>
<text x="1818.9" y="1075.1" text-anchor="middle">80</text>
<text x="1871.4" y="1075.1" text-anchor="middle">60</text>
<text x="1924" y="1075.1" text-anchor="middle">40</text>
<text x="1976.5" y="1075.1" text-anchor="middle">20</text>
<text x="1462.8" y="683.2" text-anchor="end">-1</text>
<text x="1462.8" y="795.9" text-anchor="end">-2</text>
<text x="1462.8" y="908.7" text-anchor="end">-3</text>
<text x="1462.8" y="1021.4" text-anchor="end">-4</text>
</g>
<text x="1740.5" y="1115" text-anchor="middle" class="tt">Temperature(<tspan class="cj" dx="2.5">℃</tspan><tspan dx="2.5">)</tspan></text>
<text transform="translate(1417.2 832.8) rotate(-90)" text-anchor="middle" class="tt yt">[θ]<tspan class="sb" dy="5">225nm</tspan><tspan dy="-5">·10</tspan><tspan class="sp" dy="-11.5">-3</tspan><tspan dy="11.5">(deg·cm</tspan><tspan class="sp" dy="-11.5">2</tspan><tspan dy="11.5">·dmol</tspan><tspan class="sp" dy="-11.5">-1</tspan><tspan dy="11.5">)</tspan></text>
<rect x="1870.4" y="971.6" width="128.2" height="55.4" fill="#fff" stroke="#3e3a35" stroke-width="1"/>
<line x1="1873" y1="987" x2="1921.6" y2="987" stroke="#de2020" stroke-width="2"/>
<rect x="1892.5" y="982.5" width="9" height="9" fill="#e8363a" stroke="#fff" stroke-width="3.6" paint-order="stroke"/>
<line x1="1873" y1="1013.4" x2="1921.6" y2="1013.4" stroke="#11318e" stroke-width="2"/>
<circle cx="1897" cy="1013.4" r="5" fill="#1f4fa8" stroke="#fff" stroke-width="3.6" paint-order="stroke"/>
<text x="1926.5" y="993.2" class="lg">heating</text>
<text x="1926.5" y="1019.6" class="lg">cooling</text>
</svg></body></html>
